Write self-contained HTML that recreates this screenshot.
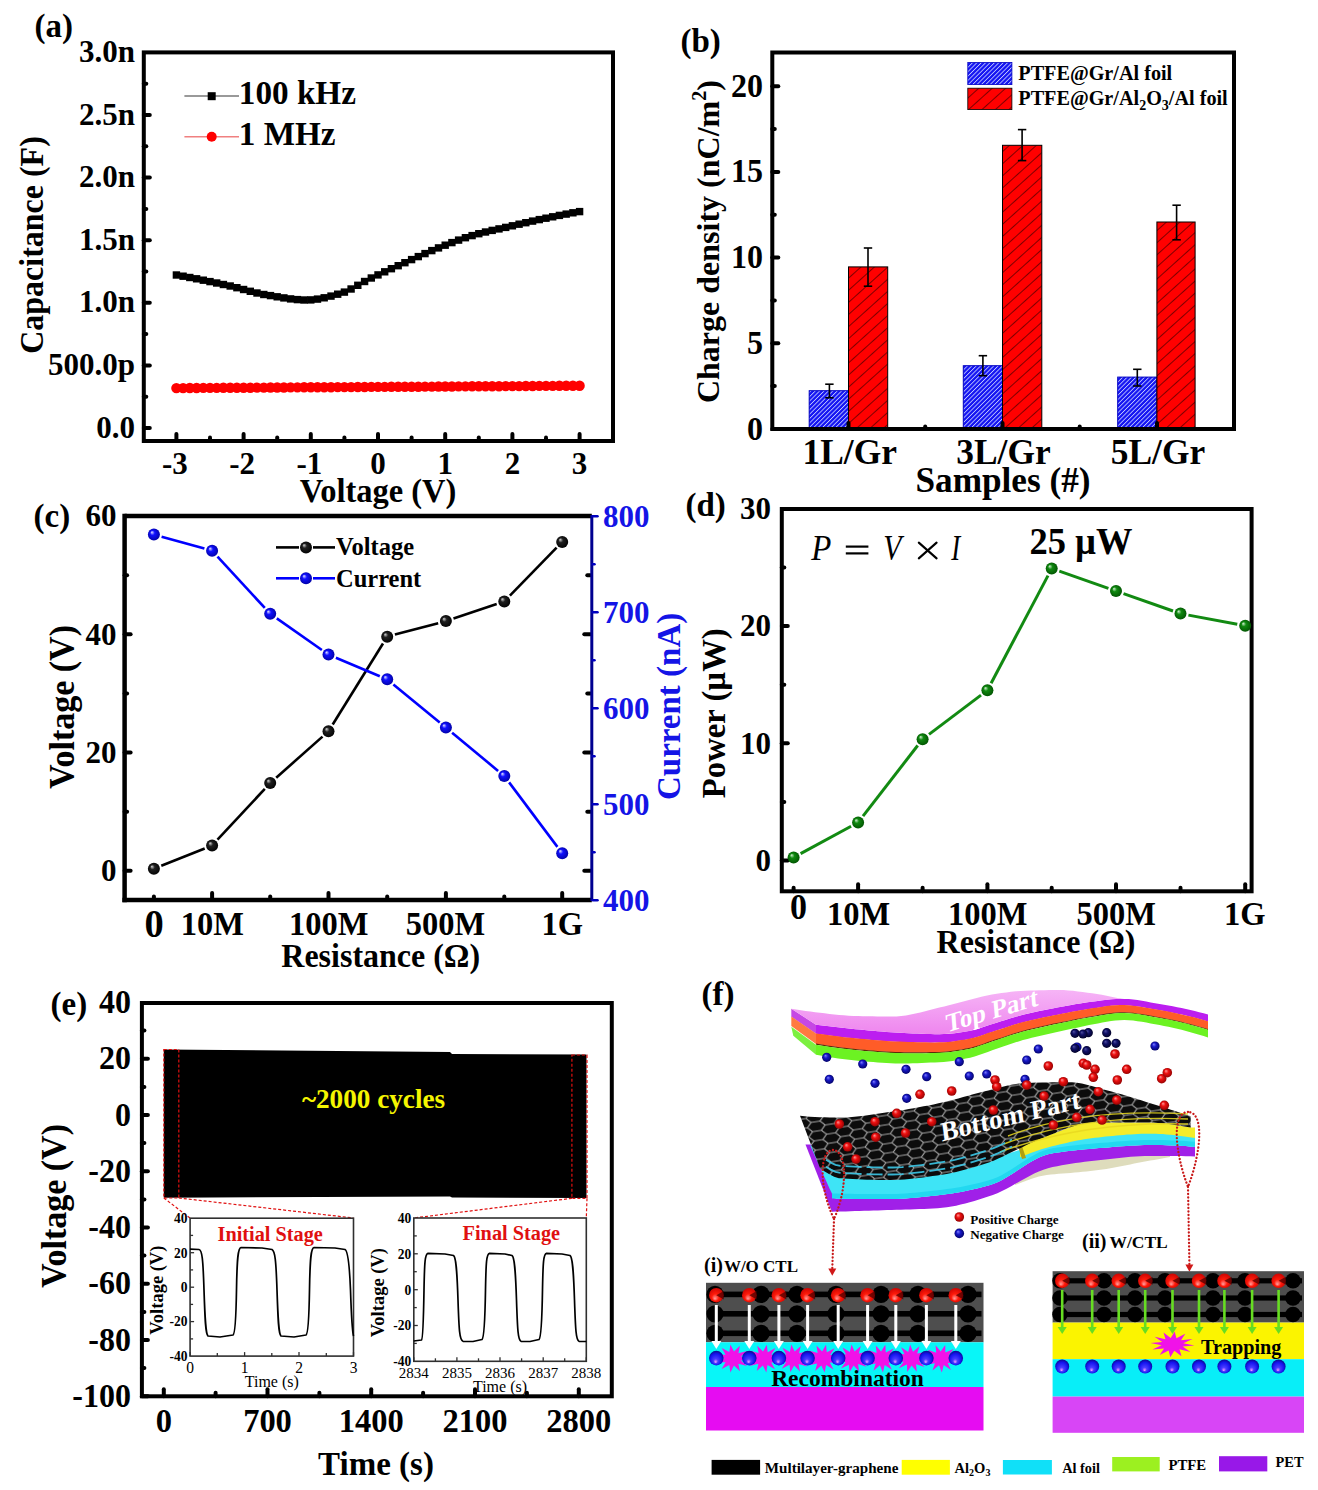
<!DOCTYPE html>
<html><head><meta charset="utf-8"><style>
html,body{margin:0;padding:0;background:#fff;width:1318px;height:1490px;overflow:hidden}
svg{display:block}
text{font-family:"Liberation Serif",serif}
</style></head><body>
<svg width="1318" height="1490" viewBox="0 0 1318 1490">
<rect width="1318" height="1490" fill="#fff"/>
<defs>
<radialGradient id="gk" cx="0.5" cy="0.5" r="0.55" fx="0.32" fy="0.3"><stop offset="0" stop-color="#d8d8d8"/><stop offset="0.35" stop-color="#202020"/><stop offset="1" stop-color="#000000"/></radialGradient>
<radialGradient id="gb" cx="0.5" cy="0.5" r="0.55" fx="0.32" fy="0.3"><stop offset="0" stop-color="#e8e8ff"/><stop offset="0.35" stop-color="#1010ff"/><stop offset="1" stop-color="#0000a0"/></radialGradient>
<radialGradient id="gg" cx="0.5" cy="0.5" r="0.55" fx="0.32" fy="0.3"><stop offset="0" stop-color="#d8f0d8"/><stop offset="0.35" stop-color="#108a10"/><stop offset="1" stop-color="#005000"/></radialGradient>
<radialGradient id="gr" cx="0.5" cy="0.5" r="0.55" fx="0.32" fy="0.3"><stop offset="0" stop-color="#ffd0d0"/><stop offset="0.35" stop-color="#ff1010"/><stop offset="1" stop-color="#900000"/></radialGradient>
<radialGradient id="gn" cx="0.5" cy="0.5" r="0.55" fx="0.32" fy="0.3"><stop offset="0" stop-color="#d0d0ff"/><stop offset="0.35" stop-color="#2020d0"/><stop offset="1" stop-color="#000060"/></radialGradient>
<pattern id="hb" patternUnits="userSpaceOnUse" width="3.1" height="3.1" patternTransform="rotate(45)"><rect width="3.1" height="3.1" fill="#1414f2"/><rect x="0" y="0" width="0.85" height="3.1" fill="#c0c8ff"/></pattern>
<pattern id="hr" patternUnits="userSpaceOnUse" width="9" height="9" patternTransform="rotate(48)"><rect width="9" height="9" fill="#ff0000"/><rect x="0" y="0" width="0.9" height="9" fill="#700000"/></pattern>
</defs>
<text x="0" y="0" font-size="33" text-anchor="start" fill="#000" font-weight="bold" font-style="normal" transform="translate(34.5,36.5) scale(1,1.04)">(a)</text>
<line x1="143.8" y1="428.0" x2="149.8" y2="428.0" stroke="#000" stroke-width="4" stroke-linecap="round"/>
<line x1="143.8" y1="396.7" x2="146.3" y2="396.7" stroke="#000" stroke-width="4" stroke-linecap="round"/>
<line x1="143.8" y1="365.4" x2="149.8" y2="365.4" stroke="#000" stroke-width="4" stroke-linecap="round"/>
<line x1="143.8" y1="334.1" x2="146.3" y2="334.1" stroke="#000" stroke-width="4" stroke-linecap="round"/>
<line x1="143.8" y1="302.8" x2="149.8" y2="302.8" stroke="#000" stroke-width="4" stroke-linecap="round"/>
<line x1="143.8" y1="271.5" x2="146.3" y2="271.5" stroke="#000" stroke-width="4" stroke-linecap="round"/>
<line x1="143.8" y1="240.2" x2="149.8" y2="240.2" stroke="#000" stroke-width="4" stroke-linecap="round"/>
<line x1="143.8" y1="208.9" x2="146.3" y2="208.9" stroke="#000" stroke-width="4" stroke-linecap="round"/>
<line x1="143.8" y1="177.6" x2="149.8" y2="177.6" stroke="#000" stroke-width="4" stroke-linecap="round"/>
<line x1="143.8" y1="146.3" x2="146.3" y2="146.3" stroke="#000" stroke-width="4" stroke-linecap="round"/>
<line x1="143.8" y1="115.0" x2="149.8" y2="115.0" stroke="#000" stroke-width="4" stroke-linecap="round"/>
<line x1="143.8" y1="83.7" x2="146.3" y2="83.7" stroke="#000" stroke-width="4" stroke-linecap="round"/>
<line x1="176.4" y1="441.0" x2="176.4" y2="434.0" stroke="#000" stroke-width="4" stroke-linecap="round"/>
<line x1="210.0" y1="441.0" x2="210.0" y2="437.5" stroke="#000" stroke-width="4" stroke-linecap="round"/>
<line x1="243.6" y1="441.0" x2="243.6" y2="434.0" stroke="#000" stroke-width="4" stroke-linecap="round"/>
<line x1="277.2" y1="441.0" x2="277.2" y2="437.5" stroke="#000" stroke-width="4" stroke-linecap="round"/>
<line x1="310.8" y1="441.0" x2="310.8" y2="434.0" stroke="#000" stroke-width="4" stroke-linecap="round"/>
<line x1="344.4" y1="441.0" x2="344.4" y2="437.5" stroke="#000" stroke-width="4" stroke-linecap="round"/>
<line x1="378.0" y1="441.0" x2="378.0" y2="434.0" stroke="#000" stroke-width="4" stroke-linecap="round"/>
<line x1="411.6" y1="441.0" x2="411.6" y2="437.5" stroke="#000" stroke-width="4" stroke-linecap="round"/>
<line x1="445.2" y1="441.0" x2="445.2" y2="434.0" stroke="#000" stroke-width="4" stroke-linecap="round"/>
<line x1="478.8" y1="441.0" x2="478.8" y2="437.5" stroke="#000" stroke-width="4" stroke-linecap="round"/>
<line x1="512.4" y1="441.0" x2="512.4" y2="434.0" stroke="#000" stroke-width="4" stroke-linecap="round"/>
<line x1="546.0" y1="441.0" x2="546.0" y2="437.5" stroke="#000" stroke-width="4" stroke-linecap="round"/>
<line x1="579.6" y1="441.0" x2="579.6" y2="434.0" stroke="#000" stroke-width="4" stroke-linecap="round"/>
<rect x="143.8" y="52.4" width="469.2" height="388.6" fill="none" stroke="#000" stroke-width="4" stroke-linejoin="miter"/>
<text x="0" y="0" font-size="31" text-anchor="end" fill="#000" font-weight="bold" font-style="normal" transform="translate(135.0,61.9) scale(1,1.04)">3.0n</text>
<text x="0" y="0" font-size="31" text-anchor="end" fill="#000" font-weight="bold" font-style="normal" transform="translate(135.0,124.5) scale(1,1.04)">2.5n</text>
<text x="0" y="0" font-size="31" text-anchor="end" fill="#000" font-weight="bold" font-style="normal" transform="translate(135.0,187.1) scale(1,1.04)">2.0n</text>
<text x="0" y="0" font-size="31" text-anchor="end" fill="#000" font-weight="bold" font-style="normal" transform="translate(135.0,249.7) scale(1,1.04)">1.5n</text>
<text x="0" y="0" font-size="31" text-anchor="end" fill="#000" font-weight="bold" font-style="normal" transform="translate(135.0,312.3) scale(1,1.04)">1.0n</text>
<text x="0" y="0" font-size="31" text-anchor="end" fill="#000" font-weight="bold" font-style="normal" transform="translate(135.0,374.9) scale(1,1.04)">500.0p</text>
<text x="0" y="0" font-size="31" text-anchor="end" fill="#000" font-weight="bold" font-style="normal" transform="translate(135.0,437.5) scale(1,1.04)">0.0</text>
<text x="0" y="0" font-size="31" text-anchor="middle" fill="#000" font-weight="bold" font-style="normal" transform="translate(174.9,474.0) scale(1,1.04)">-3</text>
<text x="0" y="0" font-size="31" text-anchor="middle" fill="#000" font-weight="bold" font-style="normal" transform="translate(242.1,474.0) scale(1,1.04)">-2</text>
<text x="0" y="0" font-size="31" text-anchor="middle" fill="#000" font-weight="bold" font-style="normal" transform="translate(309.3,474.0) scale(1,1.04)">-1</text>
<text x="0" y="0" font-size="31" text-anchor="middle" fill="#000" font-weight="bold" font-style="normal" transform="translate(378.0,474.0) scale(1,1.04)">0</text>
<text x="0" y="0" font-size="31" text-anchor="middle" fill="#000" font-weight="bold" font-style="normal" transform="translate(445.2,474.0) scale(1,1.04)">1</text>
<text x="0" y="0" font-size="31" text-anchor="middle" fill="#000" font-weight="bold" font-style="normal" transform="translate(512.4,474.0) scale(1,1.04)">2</text>
<text x="0" y="0" font-size="31" text-anchor="middle" fill="#000" font-weight="bold" font-style="normal" transform="translate(579.6,474.0) scale(1,1.04)">3</text>
<text x="0" y="0" font-size="32.5" text-anchor="middle" fill="#000" font-weight="bold" font-style="normal" transform="translate(378.0,501.5) scale(1,1.04)">Voltage (V)</text>
<text x="0" y="0" font-size="32" text-anchor="middle" fill="#000" font-weight="bold" font-style="normal" transform="translate(43.0,245.0) rotate(-90) scale(1,1.04)">Capacitance (F)</text>
<rect x="172.7" y="271.3" width="7.4" height="7.4" fill="#000" stroke="none" stroke-width="0"/>
<rect x="179.4" y="272.5" width="7.4" height="7.4" fill="#000" stroke="none" stroke-width="0"/>
<rect x="186.1" y="273.8" width="7.4" height="7.4" fill="#000" stroke="none" stroke-width="0"/>
<rect x="192.9" y="275.1" width="7.4" height="7.4" fill="#000" stroke="none" stroke-width="0"/>
<rect x="199.6" y="276.5" width="7.4" height="7.4" fill="#000" stroke="none" stroke-width="0"/>
<rect x="206.3" y="277.9" width="7.4" height="7.4" fill="#000" stroke="none" stroke-width="0"/>
<rect x="213.0" y="279.3" width="7.4" height="7.4" fill="#000" stroke="none" stroke-width="0"/>
<rect x="219.7" y="280.8" width="7.4" height="7.4" fill="#000" stroke="none" stroke-width="0"/>
<rect x="226.5" y="282.3" width="7.4" height="7.4" fill="#000" stroke="none" stroke-width="0"/>
<rect x="233.2" y="284.0" width="7.4" height="7.4" fill="#000" stroke="none" stroke-width="0"/>
<rect x="239.9" y="285.8" width="7.4" height="7.4" fill="#000" stroke="none" stroke-width="0"/>
<rect x="246.6" y="287.6" width="7.4" height="7.4" fill="#000" stroke="none" stroke-width="0"/>
<rect x="253.3" y="289.3" width="7.4" height="7.4" fill="#000" stroke="none" stroke-width="0"/>
<rect x="260.1" y="290.8" width="7.4" height="7.4" fill="#000" stroke="none" stroke-width="0"/>
<rect x="266.8" y="291.9" width="7.4" height="7.4" fill="#000" stroke="none" stroke-width="0"/>
<rect x="273.5" y="293.1" width="7.4" height="7.4" fill="#000" stroke="none" stroke-width="0"/>
<rect x="280.2" y="294.2" width="7.4" height="7.4" fill="#000" stroke="none" stroke-width="0"/>
<rect x="286.9" y="295.2" width="7.4" height="7.4" fill="#000" stroke="none" stroke-width="0"/>
<rect x="293.7" y="295.9" width="7.4" height="7.4" fill="#000" stroke="none" stroke-width="0"/>
<rect x="300.4" y="296.3" width="7.4" height="7.4" fill="#000" stroke="none" stroke-width="0"/>
<rect x="307.1" y="296.2" width="7.4" height="7.4" fill="#000" stroke="none" stroke-width="0"/>
<rect x="313.8" y="295.4" width="7.4" height="7.4" fill="#000" stroke="none" stroke-width="0"/>
<rect x="320.5" y="294.1" width="7.4" height="7.4" fill="#000" stroke="none" stroke-width="0"/>
<rect x="327.3" y="292.4" width="7.4" height="7.4" fill="#000" stroke="none" stroke-width="0"/>
<rect x="334.0" y="290.5" width="7.4" height="7.4" fill="#000" stroke="none" stroke-width="0"/>
<rect x="340.7" y="288.4" width="7.4" height="7.4" fill="#000" stroke="none" stroke-width="0"/>
<rect x="347.4" y="285.3" width="7.4" height="7.4" fill="#000" stroke="none" stroke-width="0"/>
<rect x="354.1" y="281.6" width="7.4" height="7.4" fill="#000" stroke="none" stroke-width="0"/>
<rect x="360.9" y="277.8" width="7.4" height="7.4" fill="#000" stroke="none" stroke-width="0"/>
<rect x="367.6" y="274.3" width="7.4" height="7.4" fill="#000" stroke="none" stroke-width="0"/>
<rect x="374.3" y="271.2" width="7.4" height="7.4" fill="#000" stroke="none" stroke-width="0"/>
<rect x="381.0" y="268.1" width="7.4" height="7.4" fill="#000" stroke="none" stroke-width="0"/>
<rect x="387.7" y="265.0" width="7.4" height="7.4" fill="#000" stroke="none" stroke-width="0"/>
<rect x="394.5" y="262.0" width="7.4" height="7.4" fill="#000" stroke="none" stroke-width="0"/>
<rect x="401.2" y="259.0" width="7.4" height="7.4" fill="#000" stroke="none" stroke-width="0"/>
<rect x="407.9" y="255.9" width="7.4" height="7.4" fill="#000" stroke="none" stroke-width="0"/>
<rect x="414.6" y="252.9" width="7.4" height="7.4" fill="#000" stroke="none" stroke-width="0"/>
<rect x="421.3" y="249.9" width="7.4" height="7.4" fill="#000" stroke="none" stroke-width="0"/>
<rect x="428.1" y="246.9" width="7.4" height="7.4" fill="#000" stroke="none" stroke-width="0"/>
<rect x="434.8" y="244.2" width="7.4" height="7.4" fill="#000" stroke="none" stroke-width="0"/>
<rect x="441.5" y="241.5" width="7.4" height="7.4" fill="#000" stroke="none" stroke-width="0"/>
<rect x="448.2" y="238.9" width="7.4" height="7.4" fill="#000" stroke="none" stroke-width="0"/>
<rect x="454.9" y="236.4" width="7.4" height="7.4" fill="#000" stroke="none" stroke-width="0"/>
<rect x="461.7" y="234.0" width="7.4" height="7.4" fill="#000" stroke="none" stroke-width="0"/>
<rect x="468.4" y="231.9" width="7.4" height="7.4" fill="#000" stroke="none" stroke-width="0"/>
<rect x="475.1" y="230.0" width="7.4" height="7.4" fill="#000" stroke="none" stroke-width="0"/>
<rect x="481.8" y="228.3" width="7.4" height="7.4" fill="#000" stroke="none" stroke-width="0"/>
<rect x="488.5" y="226.7" width="7.4" height="7.4" fill="#000" stroke="none" stroke-width="0"/>
<rect x="495.3" y="225.2" width="7.4" height="7.4" fill="#000" stroke="none" stroke-width="0"/>
<rect x="502.0" y="223.7" width="7.4" height="7.4" fill="#000" stroke="none" stroke-width="0"/>
<rect x="508.7" y="222.1" width="7.4" height="7.4" fill="#000" stroke="none" stroke-width="0"/>
<rect x="515.4" y="220.5" width="7.4" height="7.4" fill="#000" stroke="none" stroke-width="0"/>
<rect x="522.1" y="219.0" width="7.4" height="7.4" fill="#000" stroke="none" stroke-width="0"/>
<rect x="528.9" y="217.4" width="7.4" height="7.4" fill="#000" stroke="none" stroke-width="0"/>
<rect x="535.6" y="215.9" width="7.4" height="7.4" fill="#000" stroke="none" stroke-width="0"/>
<rect x="542.3" y="214.5" width="7.4" height="7.4" fill="#000" stroke="none" stroke-width="0"/>
<rect x="549.0" y="213.1" width="7.4" height="7.4" fill="#000" stroke="none" stroke-width="0"/>
<rect x="555.7" y="211.7" width="7.4" height="7.4" fill="#000" stroke="none" stroke-width="0"/>
<rect x="562.5" y="210.4" width="7.4" height="7.4" fill="#000" stroke="none" stroke-width="0"/>
<rect x="569.2" y="209.1" width="7.4" height="7.4" fill="#000" stroke="none" stroke-width="0"/>
<rect x="575.9" y="207.9" width="7.4" height="7.4" fill="#000" stroke="none" stroke-width="0"/>
<circle cx="176.4" cy="388.1" r="5.2" fill="#ff0000"/>
<circle cx="183.1" cy="388.1" r="5.2" fill="#ff0000"/>
<circle cx="189.8" cy="388.0" r="5.2" fill="#ff0000"/>
<circle cx="196.6" cy="388.0" r="5.2" fill="#ff0000"/>
<circle cx="203.3" cy="387.9" r="5.2" fill="#ff0000"/>
<circle cx="210.0" cy="387.9" r="5.2" fill="#ff0000"/>
<circle cx="216.7" cy="387.9" r="5.2" fill="#ff0000"/>
<circle cx="223.4" cy="387.8" r="5.2" fill="#ff0000"/>
<circle cx="230.2" cy="387.8" r="5.2" fill="#ff0000"/>
<circle cx="236.9" cy="387.7" r="5.2" fill="#ff0000"/>
<circle cx="243.6" cy="387.7" r="5.2" fill="#ff0000"/>
<circle cx="250.3" cy="387.7" r="5.2" fill="#ff0000"/>
<circle cx="257.0" cy="387.6" r="5.2" fill="#ff0000"/>
<circle cx="263.8" cy="387.6" r="5.2" fill="#ff0000"/>
<circle cx="270.5" cy="387.5" r="5.2" fill="#ff0000"/>
<circle cx="277.2" cy="387.5" r="5.2" fill="#ff0000"/>
<circle cx="283.9" cy="387.5" r="5.2" fill="#ff0000"/>
<circle cx="290.6" cy="387.4" r="5.2" fill="#ff0000"/>
<circle cx="297.4" cy="387.4" r="5.2" fill="#ff0000"/>
<circle cx="304.1" cy="387.3" r="5.2" fill="#ff0000"/>
<circle cx="310.8" cy="387.3" r="5.2" fill="#ff0000"/>
<circle cx="317.5" cy="387.3" r="5.2" fill="#ff0000"/>
<circle cx="324.2" cy="387.2" r="5.2" fill="#ff0000"/>
<circle cx="331.0" cy="387.2" r="5.2" fill="#ff0000"/>
<circle cx="337.7" cy="387.1" r="5.2" fill="#ff0000"/>
<circle cx="344.4" cy="387.1" r="5.2" fill="#ff0000"/>
<circle cx="351.1" cy="387.1" r="5.2" fill="#ff0000"/>
<circle cx="357.8" cy="387.0" r="5.2" fill="#ff0000"/>
<circle cx="364.6" cy="387.0" r="5.2" fill="#ff0000"/>
<circle cx="371.3" cy="386.9" r="5.2" fill="#ff0000"/>
<circle cx="378.0" cy="386.9" r="5.2" fill="#ff0000"/>
<circle cx="384.7" cy="386.9" r="5.2" fill="#ff0000"/>
<circle cx="391.4" cy="386.8" r="5.2" fill="#ff0000"/>
<circle cx="398.2" cy="386.8" r="5.2" fill="#ff0000"/>
<circle cx="404.9" cy="386.7" r="5.2" fill="#ff0000"/>
<circle cx="411.6" cy="386.7" r="5.2" fill="#ff0000"/>
<circle cx="418.3" cy="386.7" r="5.2" fill="#ff0000"/>
<circle cx="425.0" cy="386.6" r="5.2" fill="#ff0000"/>
<circle cx="431.8" cy="386.6" r="5.2" fill="#ff0000"/>
<circle cx="438.5" cy="386.5" r="5.2" fill="#ff0000"/>
<circle cx="445.2" cy="386.5" r="5.2" fill="#ff0000"/>
<circle cx="451.9" cy="386.5" r="5.2" fill="#ff0000"/>
<circle cx="458.6" cy="386.4" r="5.2" fill="#ff0000"/>
<circle cx="465.4" cy="386.4" r="5.2" fill="#ff0000"/>
<circle cx="472.1" cy="386.3" r="5.2" fill="#ff0000"/>
<circle cx="478.8" cy="386.3" r="5.2" fill="#ff0000"/>
<circle cx="485.5" cy="386.3" r="5.2" fill="#ff0000"/>
<circle cx="492.2" cy="386.2" r="5.2" fill="#ff0000"/>
<circle cx="499.0" cy="386.2" r="5.2" fill="#ff0000"/>
<circle cx="505.7" cy="386.1" r="5.2" fill="#ff0000"/>
<circle cx="512.4" cy="386.1" r="5.2" fill="#ff0000"/>
<circle cx="519.1" cy="386.1" r="5.2" fill="#ff0000"/>
<circle cx="525.8" cy="386.0" r="5.2" fill="#ff0000"/>
<circle cx="532.6" cy="386.0" r="5.2" fill="#ff0000"/>
<circle cx="539.3" cy="385.9" r="5.2" fill="#ff0000"/>
<circle cx="546.0" cy="385.9" r="5.2" fill="#ff0000"/>
<circle cx="552.7" cy="385.9" r="5.2" fill="#ff0000"/>
<circle cx="559.4" cy="385.8" r="5.2" fill="#ff0000"/>
<circle cx="566.2" cy="385.8" r="5.2" fill="#ff0000"/>
<circle cx="572.9" cy="385.7" r="5.2" fill="#ff0000"/>
<circle cx="579.6" cy="385.7" r="5.2" fill="#ff0000"/>
<line x1="184.4" y1="96.1" x2="239.0" y2="96.1" stroke="#777" stroke-width="1.5"/>
<rect x="207.7" y="92.2" width="8.0" height="8.0" fill="#000" stroke="none" stroke-width="0"/>
<text x="0" y="0" font-size="33.2" text-anchor="start" fill="#000" font-weight="bold" font-style="normal" transform="translate(238.8,103.7) scale(1,1.04)">100 kHz</text>
<line x1="184.4" y1="136.8" x2="239.0" y2="136.8" stroke="#f08080" stroke-width="1.5"/>
<circle cx="211.7" cy="136.8" r="5" fill="#ff0000"/>
<text x="0" y="0" font-size="33.2" text-anchor="start" fill="#000" font-weight="bold" font-style="normal" transform="translate(238.8,144.7) scale(1,1.04)">1 MHz</text>
<text x="0" y="0" font-size="33" text-anchor="start" fill="#000" font-weight="bold" font-style="normal" transform="translate(680.5,52.0) scale(1,1.04)">(b)</text>
<line x1="772.3" y1="429.0" x2="778.3" y2="429.0" stroke="#000" stroke-width="4" stroke-linecap="round"/>
<line x1="772.3" y1="386.1" x2="774.8" y2="386.1" stroke="#000" stroke-width="4" stroke-linecap="round"/>
<line x1="772.3" y1="343.3" x2="778.3" y2="343.3" stroke="#000" stroke-width="4" stroke-linecap="round"/>
<line x1="772.3" y1="300.4" x2="774.8" y2="300.4" stroke="#000" stroke-width="4" stroke-linecap="round"/>
<line x1="772.3" y1="257.6" x2="778.3" y2="257.6" stroke="#000" stroke-width="4" stroke-linecap="round"/>
<line x1="772.3" y1="214.8" x2="774.8" y2="214.8" stroke="#000" stroke-width="4" stroke-linecap="round"/>
<line x1="772.3" y1="171.9" x2="778.3" y2="171.9" stroke="#000" stroke-width="4" stroke-linecap="round"/>
<line x1="772.3" y1="129.1" x2="774.8" y2="129.1" stroke="#000" stroke-width="4" stroke-linecap="round"/>
<line x1="772.3" y1="86.2" x2="778.3" y2="86.2" stroke="#000" stroke-width="4" stroke-linecap="round"/>
<text x="0" y="0" font-size="32" text-anchor="end" fill="#000" font-weight="bold" font-style="normal" transform="translate(763.0,96.7) scale(1,1.04)">20</text>
<text x="0" y="0" font-size="32" text-anchor="end" fill="#000" font-weight="bold" font-style="normal" transform="translate(763.0,182.4) scale(1,1.04)">15</text>
<text x="0" y="0" font-size="32" text-anchor="end" fill="#000" font-weight="bold" font-style="normal" transform="translate(763.0,268.1) scale(1,1.04)">10</text>
<text x="0" y="0" font-size="32" text-anchor="end" fill="#000" font-weight="bold" font-style="normal" transform="translate(763.0,353.8) scale(1,1.04)">5</text>
<text x="0" y="0" font-size="32" text-anchor="end" fill="#000" font-weight="bold" font-style="normal" transform="translate(763.0,439.5) scale(1,1.04)">0</text>
<rect x="809.2" y="390.7" width="39.3" height="38.3" fill="url(#hb)" stroke="#0000c0" stroke-width="1"/>
<rect x="848.5" y="266.9" width="39.2" height="162.1" fill="url(#hr)" stroke="#000" stroke-width="1"/>
<rect x="963.3" y="365.7" width="39.2" height="63.3" fill="url(#hb)" stroke="#0000c0" stroke-width="1"/>
<rect x="1002.5" y="145.3" width="39.3" height="283.7" fill="url(#hr)" stroke="#000" stroke-width="1"/>
<rect x="1117.7" y="377.1" width="39.2" height="51.9" fill="url(#hb)" stroke="#0000c0" stroke-width="1"/>
<rect x="1156.9" y="222.0" width="38.2" height="207.0" fill="url(#hr)" stroke="#000" stroke-width="1"/>
<line x1="829.4" y1="384.2" x2="829.4" y2="397.8" stroke="#000" stroke-width="1.6"/>
<line x1="825.2" y1="384.2" x2="833.6" y2="384.2" stroke="#000" stroke-width="1.6"/>
<line x1="825.2" y1="397.8" x2="833.6" y2="397.8" stroke="#000" stroke-width="1.6"/>
<line x1="868.0" y1="248.0" x2="868.0" y2="286.2" stroke="#000" stroke-width="1.6"/>
<line x1="863.8" y1="248.0" x2="872.2" y2="248.0" stroke="#000" stroke-width="1.6"/>
<line x1="863.8" y1="286.2" x2="872.2" y2="286.2" stroke="#000" stroke-width="1.6"/>
<line x1="982.9" y1="355.7" x2="982.9" y2="375.7" stroke="#000" stroke-width="1.6"/>
<line x1="978.7" y1="355.7" x2="987.1" y2="355.7" stroke="#000" stroke-width="1.6"/>
<line x1="978.7" y1="375.7" x2="987.1" y2="375.7" stroke="#000" stroke-width="1.6"/>
<line x1="1022.1" y1="129.6" x2="1022.1" y2="160.6" stroke="#000" stroke-width="1.6"/>
<line x1="1017.9" y1="129.6" x2="1026.3" y2="129.6" stroke="#000" stroke-width="1.6"/>
<line x1="1017.9" y1="160.6" x2="1026.3" y2="160.6" stroke="#000" stroke-width="1.6"/>
<line x1="1137.3" y1="369.3" x2="1137.3" y2="386.0" stroke="#000" stroke-width="1.6"/>
<line x1="1133.1" y1="369.3" x2="1141.5" y2="369.3" stroke="#000" stroke-width="1.6"/>
<line x1="1133.1" y1="386.0" x2="1141.5" y2="386.0" stroke="#000" stroke-width="1.6"/>
<line x1="1176.6" y1="205.2" x2="1176.6" y2="239.8" stroke="#000" stroke-width="1.6"/>
<line x1="1172.4" y1="205.2" x2="1180.8" y2="205.2" stroke="#000" stroke-width="1.6"/>
<line x1="1172.4" y1="239.8" x2="1180.8" y2="239.8" stroke="#000" stroke-width="1.6"/>
<line x1="848.5" y1="429.0" x2="848.5" y2="423.0" stroke="#000" stroke-width="4" stroke-linecap="round"/>
<line x1="1002.5" y1="429.0" x2="1002.5" y2="423.0" stroke="#000" stroke-width="4" stroke-linecap="round"/>
<line x1="1157.0" y1="429.0" x2="1157.0" y2="423.0" stroke="#000" stroke-width="4" stroke-linecap="round"/>
<line x1="925.2" y1="429.0" x2="925.2" y2="426.5" stroke="#000" stroke-width="4" stroke-linecap="round"/>
<line x1="1079.7" y1="429.0" x2="1079.7" y2="426.5" stroke="#000" stroke-width="4" stroke-linecap="round"/>
<rect x="772.3" y="52.5" width="461.70000000000005" height="376.5" fill="none" stroke="#000" stroke-width="4" stroke-linejoin="miter"/>
<text x="0" y="0" font-size="35.4" text-anchor="middle" fill="#000" font-weight="bold" font-style="normal" transform="translate(849.7,463.5) scale(1,1.04)">1L/Gr</text>
<text x="0" y="0" font-size="35.4" text-anchor="middle" fill="#000" font-weight="bold" font-style="normal" transform="translate(1003.5,463.5) scale(1,1.04)">3L/Gr</text>
<text x="0" y="0" font-size="35.4" text-anchor="middle" fill="#000" font-weight="bold" font-style="normal" transform="translate(1158.0,463.5) scale(1,1.04)">5L/Gr</text>
<text x="0" y="0" font-size="35.2" text-anchor="middle" fill="#000" font-weight="bold" font-style="normal" transform="translate(1003.0,491.9) scale(1,1.04)">Samples (#)</text>
<text x="719" y="241.6" font-size="32" text-anchor="middle" font-weight="bold" transform="rotate(-90 719 241.6)">Charge density (nC/m<tspan font-size="20" dy="-13">2</tspan><tspan dy="13">)</tspan></text>
<rect x="967.8" y="62.5" width="44.1" height="22.1" fill="url(#hb)" stroke="#0000c0" stroke-width="0.8"/>
<rect x="967.8" y="88.2" width="44.1" height="21.4" fill="url(#hr)" stroke="#000" stroke-width="0.8"/>
<text x="0" y="0" font-size="20.2" text-anchor="start" fill="#000" font-weight="bold" font-style="normal" transform="translate(1018.3,79.6) scale(1,1.04)">PTFE@Gr/Al foil</text>
<text x="1018.3" y="105.3" font-size="20.2" font-weight="bold">PTFE@Gr/Al<tspan font-size="14" dy="5">2</tspan><tspan dy="-5">O</tspan><tspan font-size="14" dy="5">3</tspan><tspan dy="-5">/Al foil</tspan></text>
<text x="0" y="0" font-size="33" text-anchor="start" fill="#000" font-weight="bold" font-style="normal" transform="translate(33.5,526.5) scale(1,1.04)">(c)</text>
<line x1="124.6" y1="870.8" x2="130.6" y2="870.8" stroke="#000" stroke-width="4" stroke-linecap="round"/>
<line x1="590.3" y1="870.8" x2="584.3" y2="870.8" stroke="#000" stroke-width="4" stroke-linecap="round"/>
<line x1="124.6" y1="811.7" x2="127.1" y2="811.7" stroke="#000" stroke-width="4" stroke-linecap="round"/>
<line x1="590.3" y1="811.7" x2="587.3" y2="811.7" stroke="#000" stroke-width="4" stroke-linecap="round"/>
<line x1="124.6" y1="752.5" x2="130.6" y2="752.5" stroke="#000" stroke-width="4" stroke-linecap="round"/>
<line x1="590.3" y1="752.5" x2="584.3" y2="752.5" stroke="#000" stroke-width="4" stroke-linecap="round"/>
<line x1="124.6" y1="693.4" x2="127.1" y2="693.4" stroke="#000" stroke-width="4" stroke-linecap="round"/>
<line x1="590.3" y1="693.4" x2="587.3" y2="693.4" stroke="#000" stroke-width="4" stroke-linecap="round"/>
<line x1="124.6" y1="634.3" x2="130.6" y2="634.3" stroke="#000" stroke-width="4" stroke-linecap="round"/>
<line x1="590.3" y1="634.3" x2="584.3" y2="634.3" stroke="#000" stroke-width="4" stroke-linecap="round"/>
<line x1="124.6" y1="575.2" x2="127.1" y2="575.2" stroke="#000" stroke-width="4" stroke-linecap="round"/>
<line x1="590.3" y1="575.2" x2="587.3" y2="575.2" stroke="#000" stroke-width="4" stroke-linecap="round"/>
<line x1="153.9" y1="900.0" x2="153.9" y2="896.5" stroke="#000" stroke-width="4" stroke-linecap="round"/>
<line x1="212.1" y1="900.0" x2="212.1" y2="893.0" stroke="#000" stroke-width="4" stroke-linecap="round"/>
<line x1="270.2" y1="900.0" x2="270.2" y2="896.5" stroke="#000" stroke-width="4" stroke-linecap="round"/>
<line x1="328.5" y1="900.0" x2="328.5" y2="893.0" stroke="#000" stroke-width="4" stroke-linecap="round"/>
<line x1="387.2" y1="900.0" x2="387.2" y2="896.5" stroke="#000" stroke-width="4" stroke-linecap="round"/>
<line x1="445.9" y1="900.0" x2="445.9" y2="893.0" stroke="#000" stroke-width="4" stroke-linecap="round"/>
<line x1="504.3" y1="900.0" x2="504.3" y2="896.5" stroke="#000" stroke-width="4" stroke-linecap="round"/>
<line x1="562.2" y1="900.0" x2="562.2" y2="893.0" stroke="#000" stroke-width="4" stroke-linecap="round"/>
<line x1="124.6" y1="516.0" x2="591.8" y2="516.0" stroke="#000" stroke-width="4.5"/>
<line x1="124.6" y1="513.8" x2="124.6" y2="902.2" stroke="#000" stroke-width="4.5"/>
<line x1="122.4" y1="900.0" x2="591.8" y2="900.0" stroke="#000" stroke-width="4.5"/>
<line x1="591.8" y1="515.0" x2="591.8" y2="901.0" stroke="#000090" stroke-width="3"/>
<line x1="592.8" y1="900.3" x2="597.5" y2="900.3" stroke="#0000c0" stroke-width="2.5" stroke-linecap="round"/>
<line x1="592.8" y1="852.3" x2="594.5" y2="852.3" stroke="#0000c0" stroke-width="2.5" stroke-linecap="round"/>
<line x1="592.8" y1="804.3" x2="597.5" y2="804.3" stroke="#0000c0" stroke-width="2.5" stroke-linecap="round"/>
<line x1="592.8" y1="756.3" x2="594.5" y2="756.3" stroke="#0000c0" stroke-width="2.5" stroke-linecap="round"/>
<line x1="592.8" y1="708.3" x2="597.5" y2="708.3" stroke="#0000c0" stroke-width="2.5" stroke-linecap="round"/>
<line x1="592.8" y1="660.3" x2="594.5" y2="660.3" stroke="#0000c0" stroke-width="2.5" stroke-linecap="round"/>
<line x1="592.8" y1="612.3" x2="597.5" y2="612.3" stroke="#0000c0" stroke-width="2.5" stroke-linecap="round"/>
<line x1="592.8" y1="564.3" x2="594.5" y2="564.3" stroke="#0000c0" stroke-width="2.5" stroke-linecap="round"/>
<line x1="592.8" y1="516.3" x2="597.5" y2="516.3" stroke="#0000c0" stroke-width="2.5" stroke-linecap="round"/>
<text x="0" y="0" font-size="31" text-anchor="end" fill="#000" font-weight="bold" font-style="normal" transform="translate(116.5,526.3) scale(1,1.04)">60</text>
<text x="0" y="0" font-size="31" text-anchor="end" fill="#000" font-weight="bold" font-style="normal" transform="translate(116.5,644.6) scale(1,1.04)">40</text>
<text x="0" y="0" font-size="31" text-anchor="end" fill="#000" font-weight="bold" font-style="normal" transform="translate(116.5,762.8) scale(1,1.04)">20</text>
<text x="0" y="0" font-size="31" text-anchor="end" fill="#000" font-weight="bold" font-style="normal" transform="translate(116.5,881.1) scale(1,1.04)">0</text>
<text x="0" y="0" font-size="31" text-anchor="start" fill="#1414e6" font-weight="bold" font-style="normal" transform="translate(603.0,526.6) scale(1,1.04)">800</text>
<text x="0" y="0" font-size="31" text-anchor="start" fill="#1414e6" font-weight="bold" font-style="normal" transform="translate(603.0,622.6) scale(1,1.04)">700</text>
<text x="0" y="0" font-size="31" text-anchor="start" fill="#1414e6" font-weight="bold" font-style="normal" transform="translate(603.0,718.6) scale(1,1.04)">600</text>
<text x="0" y="0" font-size="31" text-anchor="start" fill="#1414e6" font-weight="bold" font-style="normal" transform="translate(603.0,814.6) scale(1,1.04)">500</text>
<text x="0" y="0" font-size="31" text-anchor="start" fill="#1414e6" font-weight="bold" font-style="normal" transform="translate(603.0,910.6) scale(1,1.04)">400</text>
<text x="0" y="0" font-size="38.5" text-anchor="middle" fill="#000" font-weight="bold" font-style="normal" transform="translate(154.2,937.2) scale(1,1.04)">0</text>
<text x="0" y="0" font-size="32.5" text-anchor="middle" fill="#000" font-weight="bold" font-style="normal" transform="translate(212.4,935.0) scale(1,1.04)">10M</text>
<text x="0" y="0" font-size="32.5" text-anchor="middle" fill="#000" font-weight="bold" font-style="normal" transform="translate(328.6,935.0) scale(1,1.04)">100M</text>
<text x="0" y="0" font-size="32.5" text-anchor="middle" fill="#000" font-weight="bold" font-style="normal" transform="translate(445.5,935.0) scale(1,1.04)">500M</text>
<text x="0" y="0" font-size="32.5" text-anchor="middle" fill="#000" font-weight="bold" font-style="normal" transform="translate(562.2,935.0) scale(1,1.04)">1G</text>
<text x="0" y="0" font-size="32" text-anchor="middle" fill="#000" font-weight="bold" font-style="normal" transform="translate(380.7,967.2) scale(1,1.04)">Resistance (Ω)</text>
<text x="0" y="0" font-size="34" text-anchor="middle" fill="#000" font-weight="bold" font-style="normal" transform="translate(73.5,707.0) rotate(-90) scale(1,1.04)">Voltage (V)</text>
<text x="0" y="0" font-size="33" text-anchor="middle" fill="#1414e6" font-weight="bold" font-style="normal" transform="translate(680.0,706.4) rotate(-90) scale(1,1.04)">Current (nA)</text>
<line x1="161.3" y1="865.8" x2="204.7" y2="848.5" stroke="#000" stroke-width="2.6" stroke-linecap="butt"/>
<line x1="217.5" y1="839.6" x2="264.8" y2="788.9" stroke="#000" stroke-width="2.6" stroke-linecap="butt"/>
<line x1="276.2" y1="777.7" x2="322.5" y2="736.6" stroke="#000" stroke-width="2.6" stroke-linecap="butt"/>
<line x1="332.7" y1="724.5" x2="383.0" y2="643.5" stroke="#000" stroke-width="2.6" stroke-linecap="butt"/>
<line x1="394.9" y1="634.6" x2="438.2" y2="623.2" stroke="#000" stroke-width="2.6" stroke-linecap="butt"/>
<line x1="453.5" y1="618.5" x2="496.7" y2="604.0" stroke="#000" stroke-width="2.6" stroke-linecap="butt"/>
<line x1="509.9" y1="595.7" x2="556.6" y2="547.6" stroke="#000" stroke-width="2.6" stroke-linecap="butt"/>
<line x1="161.6" y1="536.7" x2="204.4" y2="548.6" stroke="#0000ff" stroke-width="2.6" stroke-linecap="butt"/>
<line x1="217.5" y1="556.7" x2="264.8" y2="607.9" stroke="#0000ff" stroke-width="2.6" stroke-linecap="butt"/>
<line x1="276.8" y1="618.4" x2="321.9" y2="650.0" stroke="#0000ff" stroke-width="2.6" stroke-linecap="butt"/>
<line x1="335.9" y1="657.7" x2="379.8" y2="676.2" stroke="#0000ff" stroke-width="2.6" stroke-linecap="butt"/>
<line x1="393.4" y1="684.4" x2="439.7" y2="722.5" stroke="#0000ff" stroke-width="2.6" stroke-linecap="butt"/>
<line x1="452.1" y1="732.7" x2="498.1" y2="770.9" stroke="#0000ff" stroke-width="2.6" stroke-linecap="butt"/>
<line x1="509.1" y1="782.4" x2="557.4" y2="846.9" stroke="#0000ff" stroke-width="2.6" stroke-linecap="butt"/>
<circle cx="153.9" cy="868.8" r="6" fill="url(#gk)"/>
<circle cx="212.1" cy="845.5" r="6" fill="url(#gk)"/>
<circle cx="270.2" cy="783.0" r="6" fill="url(#gk)"/>
<circle cx="328.5" cy="731.3" r="6" fill="url(#gk)"/>
<circle cx="387.2" cy="636.7" r="6" fill="url(#gk)"/>
<circle cx="445.9" cy="621.1" r="6" fill="url(#gk)"/>
<circle cx="504.3" cy="601.4" r="6" fill="url(#gk)"/>
<circle cx="562.2" cy="541.9" r="6" fill="url(#gk)"/>
<circle cx="153.9" cy="534.5" r="6" fill="url(#gb)"/>
<circle cx="212.1" cy="550.8" r="6" fill="url(#gb)"/>
<circle cx="270.2" cy="613.8" r="6" fill="url(#gb)"/>
<circle cx="328.5" cy="654.6" r="6" fill="url(#gb)"/>
<circle cx="387.2" cy="679.3" r="6" fill="url(#gb)"/>
<circle cx="445.9" cy="727.6" r="6" fill="url(#gb)"/>
<circle cx="504.3" cy="776.0" r="6" fill="url(#gb)"/>
<circle cx="562.2" cy="853.3" r="6" fill="url(#gb)"/>
<line x1="276.0" y1="547.4" x2="299.0" y2="547.4" stroke="#000" stroke-width="2.6"/>
<line x1="313.0" y1="547.4" x2="335.0" y2="547.4" stroke="#000" stroke-width="2.6"/>
<circle cx="306.0" cy="547.4" r="6" fill="url(#gk)"/>
<line x1="276.0" y1="578.3" x2="299.0" y2="578.3" stroke="#0000ff" stroke-width="2.6"/>
<line x1="313.0" y1="578.3" x2="335.0" y2="578.3" stroke="#0000ff" stroke-width="2.6"/>
<circle cx="306.0" cy="578.3" r="6" fill="url(#gb)"/>
<text x="0" y="0" font-size="24.5" text-anchor="start" fill="#000" font-weight="bold" font-style="normal" transform="translate(336.0,554.7) scale(1,1.04)">Voltage</text>
<text x="0" y="0" font-size="24.5" text-anchor="start" fill="#000" font-weight="bold" font-style="normal" transform="translate(336.0,587.0) scale(1,1.04)">Current</text>
<text x="0" y="0" font-size="33" text-anchor="start" fill="#000" font-weight="bold" font-style="normal" transform="translate(685.5,516.0) scale(1,1.04)">(d)</text>
<line x1="781.8" y1="860.5" x2="787.8" y2="860.5" stroke="#000" stroke-width="4" stroke-linecap="round"/>
<line x1="781.8" y1="801.9" x2="784.3" y2="801.9" stroke="#000" stroke-width="4" stroke-linecap="round"/>
<line x1="781.8" y1="743.3" x2="787.8" y2="743.3" stroke="#000" stroke-width="4" stroke-linecap="round"/>
<line x1="781.8" y1="684.7" x2="784.3" y2="684.7" stroke="#000" stroke-width="4" stroke-linecap="round"/>
<line x1="781.8" y1="626.1" x2="787.8" y2="626.1" stroke="#000" stroke-width="4" stroke-linecap="round"/>
<line x1="781.8" y1="567.5" x2="784.3" y2="567.5" stroke="#000" stroke-width="4" stroke-linecap="round"/>
<line x1="793.6" y1="891.3" x2="793.6" y2="887.8" stroke="#000" stroke-width="4" stroke-linecap="round"/>
<line x1="858.1" y1="891.3" x2="858.1" y2="884.3" stroke="#000" stroke-width="4" stroke-linecap="round"/>
<line x1="922.6" y1="891.3" x2="922.6" y2="887.8" stroke="#000" stroke-width="4" stroke-linecap="round"/>
<line x1="987.4" y1="891.3" x2="987.4" y2="884.3" stroke="#000" stroke-width="4" stroke-linecap="round"/>
<line x1="1051.7" y1="891.3" x2="1051.7" y2="887.8" stroke="#000" stroke-width="4" stroke-linecap="round"/>
<line x1="1116.0" y1="891.3" x2="1116.0" y2="884.3" stroke="#000" stroke-width="4" stroke-linecap="round"/>
<line x1="1180.5" y1="891.3" x2="1180.5" y2="887.8" stroke="#000" stroke-width="4" stroke-linecap="round"/>
<line x1="1245.2" y1="891.3" x2="1245.2" y2="884.3" stroke="#000" stroke-width="4" stroke-linecap="round"/>
<rect x="781.8" y="509" width="469.79999999999995" height="382.29999999999995" fill="none" stroke="#000" stroke-width="4" stroke-linejoin="miter"/>
<text x="0" y="0" font-size="31" text-anchor="end" fill="#000" font-weight="bold" font-style="normal" transform="translate(771.0,519.2) scale(1,1.04)">30</text>
<text x="0" y="0" font-size="31" text-anchor="end" fill="#000" font-weight="bold" font-style="normal" transform="translate(771.0,636.4) scale(1,1.04)">20</text>
<text x="0" y="0" font-size="31" text-anchor="end" fill="#000" font-weight="bold" font-style="normal" transform="translate(771.0,753.6) scale(1,1.04)">10</text>
<text x="0" y="0" font-size="31" text-anchor="end" fill="#000" font-weight="bold" font-style="normal" transform="translate(771.0,870.8) scale(1,1.04)">0</text>
<text x="0" y="0" font-size="34" text-anchor="middle" fill="#000" font-weight="bold" font-style="normal" transform="translate(798.4,919.2) scale(1,1.04)">0</text>
<text x="0" y="0" font-size="32.5" text-anchor="middle" fill="#000" font-weight="bold" font-style="normal" transform="translate(858.5,924.5) scale(1,1.04)">10M</text>
<text x="0" y="0" font-size="32.5" text-anchor="middle" fill="#000" font-weight="bold" font-style="normal" transform="translate(987.6,924.5) scale(1,1.04)">100M</text>
<text x="0" y="0" font-size="32.5" text-anchor="middle" fill="#000" font-weight="bold" font-style="normal" transform="translate(1116.3,924.5) scale(1,1.04)">500M</text>
<text x="0" y="0" font-size="32.5" text-anchor="middle" fill="#000" font-weight="bold" font-style="normal" transform="translate(1244.8,924.5) scale(1,1.04)">1G</text>
<text x="0" y="0" font-size="32" text-anchor="middle" fill="#000" font-weight="bold" font-style="normal" transform="translate(1036.0,952.6) scale(1,1.04)">Resistance (Ω)</text>
<text x="0" y="0" font-size="32.7" text-anchor="middle" fill="#000" font-weight="bold" font-style="normal" transform="translate(725.0,713.2) rotate(-90) scale(1,1.04)">Power (µW)</text>
<line x1="800.6" y1="853.6" x2="851.1" y2="826.3" stroke="#128a12" stroke-width="3" stroke-linecap="butt"/>
<line x1="863.0" y1="816.2" x2="917.7" y2="745.5" stroke="#128a12" stroke-width="3" stroke-linecap="butt"/>
<line x1="929.0" y1="734.4" x2="981.0" y2="695.1" stroke="#128a12" stroke-width="3" stroke-linecap="butt"/>
<line x1="991.1" y1="683.2" x2="1048.0" y2="575.6" stroke="#128a12" stroke-width="3" stroke-linecap="butt"/>
<line x1="1059.3" y1="571.1" x2="1108.4" y2="588.4" stroke="#128a12" stroke-width="3" stroke-linecap="butt"/>
<line x1="1123.5" y1="593.6" x2="1173.0" y2="611.0" stroke="#128a12" stroke-width="3" stroke-linecap="butt"/>
<line x1="1188.4" y1="615.1" x2="1237.3" y2="624.3" stroke="#128a12" stroke-width="3" stroke-linecap="butt"/>
<circle cx="793.6" cy="857.4" r="6" fill="url(#gg)"/>
<circle cx="858.1" cy="822.5" r="6" fill="url(#gg)"/>
<circle cx="922.6" cy="739.2" r="6" fill="url(#gg)"/>
<circle cx="987.4" cy="690.3" r="6" fill="url(#gg)"/>
<circle cx="1051.7" cy="568.5" r="6" fill="url(#gg)"/>
<circle cx="1116.0" cy="591.0" r="6" fill="url(#gg)"/>
<circle cx="1180.5" cy="613.6" r="6" fill="url(#gg)"/>
<circle cx="1245.2" cy="625.8" r="6" fill="url(#gg)"/>
<text font-size="35" font-style="italic" transform="translate(811.3,559.8) scale(0.94,1)">P</text>
<text font-size="35" font-style="italic" transform="translate(883.2,560.3) scale(0.85,1)">V</text>
<text font-size="35" font-style="italic" transform="translate(951.2,559.8) scale(0.77,1)">I</text>
<line x1="845.8" y1="546.6" x2="868.4" y2="546.6" stroke="#000" stroke-width="2.2"/>
<line x1="845.8" y1="553.4" x2="868.4" y2="553.4" stroke="#000" stroke-width="2.2"/>
<line x1="918.8" y1="542.6" x2="936.6" y2="558.4" stroke="#000" stroke-width="2.1" stroke-linecap="round"/>
<line x1="918.8" y1="558.4" x2="936.6" y2="542.6" stroke="#000" stroke-width="2.1" stroke-linecap="round"/>
<text x="0" y="0" font-size="36.5" text-anchor="middle" fill="#000" font-weight="bold" font-style="normal" transform="translate(1081.0,553.5) scale(1,1.04)">25 µW</text>
<text x="0" y="0" font-size="33" text-anchor="start" fill="#000" font-weight="bold" font-style="normal" transform="translate(50.5,1015.0) scale(1,1.04)">(e)</text>
<line x1="141.9" y1="1030.6" x2="144.4" y2="1030.6" stroke="#000" stroke-width="4" stroke-linecap="round"/>
<line x1="141.9" y1="1058.8" x2="147.9" y2="1058.8" stroke="#000" stroke-width="4" stroke-linecap="round"/>
<line x1="141.9" y1="1086.9" x2="144.4" y2="1086.9" stroke="#000" stroke-width="4" stroke-linecap="round"/>
<line x1="141.9" y1="1115.0" x2="147.9" y2="1115.0" stroke="#000" stroke-width="4" stroke-linecap="round"/>
<line x1="141.9" y1="1143.1" x2="144.4" y2="1143.1" stroke="#000" stroke-width="4" stroke-linecap="round"/>
<line x1="141.9" y1="1171.2" x2="147.9" y2="1171.2" stroke="#000" stroke-width="4" stroke-linecap="round"/>
<line x1="141.9" y1="1199.4" x2="144.4" y2="1199.4" stroke="#000" stroke-width="4" stroke-linecap="round"/>
<line x1="141.9" y1="1227.5" x2="147.9" y2="1227.5" stroke="#000" stroke-width="4" stroke-linecap="round"/>
<line x1="141.9" y1="1255.6" x2="144.4" y2="1255.6" stroke="#000" stroke-width="4" stroke-linecap="round"/>
<line x1="141.9" y1="1283.8" x2="147.9" y2="1283.8" stroke="#000" stroke-width="4" stroke-linecap="round"/>
<line x1="141.9" y1="1311.9" x2="144.4" y2="1311.9" stroke="#000" stroke-width="4" stroke-linecap="round"/>
<line x1="141.9" y1="1340.0" x2="147.9" y2="1340.0" stroke="#000" stroke-width="4" stroke-linecap="round"/>
<line x1="141.9" y1="1368.1" x2="144.4" y2="1368.1" stroke="#000" stroke-width="4" stroke-linecap="round"/>
<line x1="141.9" y1="1396.2" x2="147.9" y2="1396.2" stroke="#000" stroke-width="4" stroke-linecap="round"/>
<line x1="163.8" y1="1396.3" x2="163.8" y2="1389.3" stroke="#000" stroke-width="4" stroke-linecap="round"/>
<line x1="215.6" y1="1396.3" x2="215.6" y2="1392.8" stroke="#000" stroke-width="4" stroke-linecap="round"/>
<line x1="267.5" y1="1396.3" x2="267.5" y2="1389.3" stroke="#000" stroke-width="4" stroke-linecap="round"/>
<line x1="319.4" y1="1396.3" x2="319.4" y2="1392.8" stroke="#000" stroke-width="4" stroke-linecap="round"/>
<line x1="371.2" y1="1396.3" x2="371.2" y2="1389.3" stroke="#000" stroke-width="4" stroke-linecap="round"/>
<line x1="423.1" y1="1396.3" x2="423.1" y2="1392.8" stroke="#000" stroke-width="4" stroke-linecap="round"/>
<line x1="475.0" y1="1396.3" x2="475.0" y2="1389.3" stroke="#000" stroke-width="4" stroke-linecap="round"/>
<line x1="526.9" y1="1396.3" x2="526.9" y2="1392.8" stroke="#000" stroke-width="4" stroke-linecap="round"/>
<line x1="578.8" y1="1396.3" x2="578.8" y2="1389.3" stroke="#000" stroke-width="4" stroke-linecap="round"/>
<rect x="141.9" y="1003" width="469.9" height="393.29999999999995" fill="none" stroke="#000" stroke-width="4" stroke-linejoin="miter"/>
<text x="0" y="0" font-size="32" text-anchor="end" fill="#000" font-weight="bold" font-style="normal" transform="translate(131.0,1013.0) scale(1,1.04)">40</text>
<text x="0" y="0" font-size="32" text-anchor="end" fill="#000" font-weight="bold" font-style="normal" transform="translate(131.0,1069.2) scale(1,1.04)">20</text>
<text x="0" y="0" font-size="32" text-anchor="end" fill="#000" font-weight="bold" font-style="normal" transform="translate(131.0,1125.5) scale(1,1.04)">0</text>
<text x="0" y="0" font-size="32" text-anchor="end" fill="#000" font-weight="bold" font-style="normal" transform="translate(131.0,1181.8) scale(1,1.04)">-20</text>
<text x="0" y="0" font-size="32" text-anchor="end" fill="#000" font-weight="bold" font-style="normal" transform="translate(131.0,1238.0) scale(1,1.04)">-40</text>
<text x="0" y="0" font-size="32" text-anchor="end" fill="#000" font-weight="bold" font-style="normal" transform="translate(131.0,1294.2) scale(1,1.04)">-60</text>
<text x="0" y="0" font-size="32" text-anchor="end" fill="#000" font-weight="bold" font-style="normal" transform="translate(131.0,1350.5) scale(1,1.04)">-80</text>
<text x="0" y="0" font-size="32" text-anchor="end" fill="#000" font-weight="bold" font-style="normal" transform="translate(131.0,1406.8) scale(1,1.04)">-100</text>
<text x="0" y="0" font-size="32.5" text-anchor="middle" fill="#000" font-weight="bold" font-style="normal" transform="translate(163.8,1431.5) scale(1,1.04)">0</text>
<text x="0" y="0" font-size="32.5" text-anchor="middle" fill="#000" font-weight="bold" font-style="normal" transform="translate(267.5,1431.5) scale(1,1.04)">700</text>
<text x="0" y="0" font-size="32.5" text-anchor="middle" fill="#000" font-weight="bold" font-style="normal" transform="translate(371.2,1431.5) scale(1,1.04)">1400</text>
<text x="0" y="0" font-size="32.5" text-anchor="middle" fill="#000" font-weight="bold" font-style="normal" transform="translate(475.0,1431.5) scale(1,1.04)">2100</text>
<text x="0" y="0" font-size="32.5" text-anchor="middle" fill="#000" font-weight="bold" font-style="normal" transform="translate(578.8,1431.5) scale(1,1.04)">2800</text>
<text x="0" y="0" font-size="33" text-anchor="middle" fill="#000" font-weight="bold" font-style="normal" transform="translate(376.0,1475.2) scale(1,1.04)">Time (s)</text>
<text x="0" y="0" font-size="34" text-anchor="middle" fill="#000" font-weight="bold" font-style="normal" transform="translate(66.0,1206.0) rotate(-90) scale(1,1.04)">Voltage (V)</text>
<path d="M163.8,1049.5 L450,1052 L452,1054 L586.5,1054.5 L586.5,1198 L452,1197.6 L450,1196.4 L163.8,1197.8 Z" fill="#000"/>
<text x="0" y="0" font-size="27.2" text-anchor="middle" fill="#f5f500" font-weight="bold" font-style="normal" transform="translate(373.5,1107.7) scale(1,1.04)">~2000 cycles</text>
<rect x="163.8" y="1049.5" width="15" height="148.5" fill="none" stroke="#e01010" stroke-width="1.2" stroke-dasharray="3,2"/>
<rect x="571.9" y="1055" width="15.1" height="143.3" fill="none" stroke="#e01010" stroke-width="1.2" stroke-dasharray="3,2"/>
<line x1="163.8" y1="1198.0" x2="190.0" y2="1218.0" stroke="#e01010" stroke-width="1.2" stroke-dasharray="3,2"/>
<line x1="178.8" y1="1198.0" x2="353.5" y2="1218.0" stroke="#e01010" stroke-width="1.2" stroke-dasharray="3,2"/>
<line x1="571.9" y1="1198.3" x2="413.8" y2="1218.0" stroke="#e01010" stroke-width="1.2" stroke-dasharray="3,2"/>
<line x1="587.0" y1="1198.3" x2="586.3" y2="1218.0" stroke="#e01010" stroke-width="1.2" stroke-dasharray="3,2"/>
<rect x="190.1" y="1218.2" width="163.4" height="137.9" fill="#fff" stroke="#303030" stroke-width="1.6"/>
<line x1="190.1" y1="1338.9" x2="193.1" y2="1338.9" stroke="#303030" stroke-width="1.3"/>
<line x1="190.1" y1="1321.6" x2="194.1" y2="1321.6" stroke="#303030" stroke-width="1.3"/>
<line x1="190.1" y1="1304.4" x2="193.1" y2="1304.4" stroke="#303030" stroke-width="1.3"/>
<line x1="190.1" y1="1287.2" x2="194.1" y2="1287.2" stroke="#303030" stroke-width="1.3"/>
<line x1="190.1" y1="1269.9" x2="193.1" y2="1269.9" stroke="#303030" stroke-width="1.3"/>
<line x1="190.1" y1="1252.7" x2="194.1" y2="1252.7" stroke="#303030" stroke-width="1.3"/>
<line x1="190.1" y1="1235.4" x2="193.1" y2="1235.4" stroke="#303030" stroke-width="1.3"/>
<line x1="190.1" y1="1356.1" x2="190.1" y2="1352.1" stroke="#303030" stroke-width="1.3"/>
<line x1="217.3" y1="1356.1" x2="217.3" y2="1353.1" stroke="#303030" stroke-width="1.3"/>
<line x1="244.6" y1="1356.1" x2="244.6" y2="1352.1" stroke="#303030" stroke-width="1.3"/>
<line x1="271.8" y1="1356.1" x2="271.8" y2="1353.1" stroke="#303030" stroke-width="1.3"/>
<line x1="299.0" y1="1356.1" x2="299.0" y2="1352.1" stroke="#303030" stroke-width="1.3"/>
<line x1="326.3" y1="1356.1" x2="326.3" y2="1353.1" stroke="#303030" stroke-width="1.3"/>
<line x1="353.5" y1="1356.1" x2="353.5" y2="1352.1" stroke="#303030" stroke-width="1.3"/>
<text x="0" y="0" font-size="13.5" text-anchor="end" fill="#000" font-weight="bold" font-style="normal" transform="translate(187.6,1223.0) scale(1,1.04)">40</text>
<text x="0" y="0" font-size="13.5" text-anchor="end" fill="#000" font-weight="bold" font-style="normal" transform="translate(187.6,1257.5) scale(1,1.04)">20</text>
<text x="0" y="0" font-size="13.5" text-anchor="end" fill="#000" font-weight="bold" font-style="normal" transform="translate(187.6,1292.0) scale(1,1.04)">0</text>
<text x="0" y="0" font-size="13.5" text-anchor="end" fill="#000" font-weight="bold" font-style="normal" transform="translate(187.6,1326.4) scale(1,1.04)">-20</text>
<text x="0" y="0" font-size="13.5" text-anchor="end" fill="#000" font-weight="bold" font-style="normal" transform="translate(187.6,1360.9) scale(1,1.04)">-40</text>
<text x="0" y="0" font-size="15.5" text-anchor="middle" fill="#000" font-weight="normal" font-style="normal" transform="translate(190.1,1373.1) scale(1,1.04)">0</text>
<text x="0" y="0" font-size="15.5" text-anchor="middle" fill="#000" font-weight="normal" font-style="normal" transform="translate(244.6,1373.1) scale(1,1.04)">1</text>
<text x="0" y="0" font-size="15.5" text-anchor="middle" fill="#000" font-weight="normal" font-style="normal" transform="translate(299.0,1373.1) scale(1,1.04)">2</text>
<text x="0" y="0" font-size="15.5" text-anchor="middle" fill="#000" font-weight="normal" font-style="normal" transform="translate(353.5,1373.1) scale(1,1.04)">3</text>
<text x="0" y="0" font-size="16" text-anchor="middle" fill="#000" font-weight="normal" font-style="normal" transform="translate(271.8,1387.1) scale(1,1.04)">Time (s)</text>
<text x="0" y="0" font-size="20.3" text-anchor="middle" fill="#e01010" font-weight="bold" font-style="normal" transform="translate(270.2,1240.5) scale(1,1.04)">Initial Stage</text>
<path d="M190,1249.2 L199,1249.5 C202,1250 203,1258 204,1290 C205,1320 205.5,1334 208,1336 L220,1337 L233,1335 C235,1334 236,1320 236.5,1290 C237,1258 238,1248 241,1247.5 L262,1248 L272,1249.5 C275,1251 276,1260 277,1290 C278,1320 278.5,1334 281,1336 L294,1337 L306,1335 C308,1334 309,1320 309.5,1290 C310,1258 311,1248 314,1247.5 L335,1248 L345,1249.5 C348,1251 349.5,1265 350.5,1290 C351.5,1320 352,1330 353.5,1336" fill="none" stroke="#000" stroke-width="1.7" stroke-linejoin="round"/>
<text x="0" y="0" font-size="18.5" text-anchor="middle" fill="#000" font-weight="bold" font-style="normal" transform="translate(163.4,1290.2) rotate(-90) scale(1,1.04)">Voltage (V)</text>
<rect x="413.8" y="1218.0" width="172.5" height="143.3" fill="#fff" stroke="#303030" stroke-width="1.6"/>
<line x1="413.8" y1="1343.4" x2="416.8" y2="1343.4" stroke="#303030" stroke-width="1.3"/>
<line x1="413.8" y1="1325.5" x2="417.8" y2="1325.5" stroke="#303030" stroke-width="1.3"/>
<line x1="413.8" y1="1307.6" x2="416.8" y2="1307.6" stroke="#303030" stroke-width="1.3"/>
<line x1="413.8" y1="1289.7" x2="417.8" y2="1289.7" stroke="#303030" stroke-width="1.3"/>
<line x1="413.8" y1="1271.7" x2="416.8" y2="1271.7" stroke="#303030" stroke-width="1.3"/>
<line x1="413.8" y1="1253.8" x2="417.8" y2="1253.8" stroke="#303030" stroke-width="1.3"/>
<line x1="413.8" y1="1235.9" x2="416.8" y2="1235.9" stroke="#303030" stroke-width="1.3"/>
<line x1="413.8" y1="1361.3" x2="413.8" y2="1357.3" stroke="#303030" stroke-width="1.3"/>
<line x1="435.4" y1="1361.3" x2="435.4" y2="1358.3" stroke="#303030" stroke-width="1.3"/>
<line x1="456.9" y1="1361.3" x2="456.9" y2="1357.3" stroke="#303030" stroke-width="1.3"/>
<line x1="478.5" y1="1361.3" x2="478.5" y2="1358.3" stroke="#303030" stroke-width="1.3"/>
<line x1="500.0" y1="1361.3" x2="500.0" y2="1357.3" stroke="#303030" stroke-width="1.3"/>
<line x1="521.6" y1="1361.3" x2="521.6" y2="1358.3" stroke="#303030" stroke-width="1.3"/>
<line x1="543.2" y1="1361.3" x2="543.2" y2="1357.3" stroke="#303030" stroke-width="1.3"/>
<line x1="564.7" y1="1361.3" x2="564.7" y2="1358.3" stroke="#303030" stroke-width="1.3"/>
<line x1="586.3" y1="1361.3" x2="586.3" y2="1357.3" stroke="#303030" stroke-width="1.3"/>
<text x="0" y="0" font-size="13.5" text-anchor="end" fill="#000" font-weight="bold" font-style="normal" transform="translate(411.3,1222.8) scale(1,1.04)">40</text>
<text x="0" y="0" font-size="13.5" text-anchor="end" fill="#000" font-weight="bold" font-style="normal" transform="translate(411.3,1258.6) scale(1,1.04)">20</text>
<text x="0" y="0" font-size="13.5" text-anchor="end" fill="#000" font-weight="bold" font-style="normal" transform="translate(411.3,1294.5) scale(1,1.04)">0</text>
<text x="0" y="0" font-size="13.5" text-anchor="end" fill="#000" font-weight="bold" font-style="normal" transform="translate(411.3,1330.3) scale(1,1.04)">-20</text>
<text x="0" y="0" font-size="13.5" text-anchor="end" fill="#000" font-weight="bold" font-style="normal" transform="translate(411.3,1366.1) scale(1,1.04)">-40</text>
<text x="0" y="0" font-size="15" text-anchor="middle" fill="#000" font-weight="normal" font-style="normal" transform="translate(413.8,1378.3) scale(1,1.04)">2834</text>
<text x="0" y="0" font-size="15" text-anchor="middle" fill="#000" font-weight="normal" font-style="normal" transform="translate(456.9,1378.3) scale(1,1.04)">2835</text>
<text x="0" y="0" font-size="15" text-anchor="middle" fill="#000" font-weight="normal" font-style="normal" transform="translate(500.0,1378.3) scale(1,1.04)">2836</text>
<text x="0" y="0" font-size="15" text-anchor="middle" fill="#000" font-weight="normal" font-style="normal" transform="translate(543.2,1378.3) scale(1,1.04)">2837</text>
<text x="0" y="0" font-size="15" text-anchor="middle" fill="#000" font-weight="normal" font-style="normal" transform="translate(586.3,1378.3) scale(1,1.04)">2838</text>
<text x="0" y="0" font-size="16" text-anchor="middle" fill="#000" font-weight="normal" font-style="normal" transform="translate(500.0,1392.3) scale(1,1.04)">Time (s)</text>
<text x="0" y="0" font-size="20.3" text-anchor="middle" fill="#e01010" font-weight="bold" font-style="normal" transform="translate(511.3,1240.3) scale(1,1.04)">Final Stage</text>
<path d="M413.8,1341 L421.5,1340 C423,1339 423.5,1320 424,1290 C424.5,1262 425,1254 428,1253.3 L445,1254 L453.5,1255.5 C456,1257 457,1270 458,1300 C459,1330 459.5,1340 463,1341.3 L473,1341.5 L482,1339.5 C484,1338 485,1320 485.5,1290 C486,1262 486.5,1254 489.5,1253.3 L505,1254 L512,1255.5 C514.5,1257 515.5,1270 516.5,1300 C517.5,1330 518,1340 521,1341.3 L530,1341.5 L539,1339.5 C541,1338 542,1320 542.5,1290 C543,1262 543.5,1254 546.5,1253.3 L562,1254 L570,1255.5 C572.5,1257 573.5,1270 574.5,1300 C575.5,1330 576,1340 579,1341.3 L586.3,1341.5" fill="none" stroke="#000" stroke-width="1.7" stroke-linejoin="round"/>
<text x="0" y="0" font-size="18.5" text-anchor="middle" fill="#000" font-weight="bold" font-style="normal" transform="translate(383.6,1292.7) rotate(-90) scale(1,1.04)">Voltage (V)</text>
<defs>
<linearGradient id="topsurf" x1="0" y1="0" x2="1" y2="0"><stop offset="0" stop-color="#eea6f2"/><stop offset="0.5" stop-color="#ea88f0"/><stop offset="1" stop-color="#f0a8f4"/></linearGradient>
<radialGradient id="bR" cx="0.5" cy="0.5" r="0.55" fx="0.35" fy="0.3"><stop offset="0" stop-color="#ff9a9a"/><stop offset="0.4" stop-color="#ee1010"/><stop offset="1" stop-color="#8a0000"/></radialGradient>
<radialGradient id="bB" cx="0.5" cy="0.5" r="0.55" fx="0.35" fy="0.3"><stop offset="0" stop-color="#8080ff"/><stop offset="0.4" stop-color="#1818c8"/><stop offset="1" stop-color="#000060"/></radialGradient>
<radialGradient id="bN" cx="0.5" cy="0.5" r="0.55" fx="0.35" fy="0.3"><stop offset="0" stop-color="#5050a0"/><stop offset="0.4" stop-color="#101068"/><stop offset="1" stop-color="#000020"/></radialGradient>
<radialGradient id="bB2" cx="0.5" cy="0.5" r="0.6" fx="0.45" fy="0.78"><stop offset="0" stop-color="#ff9cff"/><stop offset="0.25" stop-color="#4a3cff"/><stop offset="0.65" stop-color="#1414f0"/><stop offset="1" stop-color="#06065a"/></radialGradient>
<radialGradient id="bR2" cx="0.5" cy="0.5" r="0.6" fx="0.4" fy="0.75"><stop offset="0" stop-color="#ffa0a0"/><stop offset="0.4" stop-color="#ff1a0a"/><stop offset="1" stop-color="#c00000"/></radialGradient>
<pattern id="hex" patternUnits="userSpaceOnUse" width="27" height="15.6" patternTransform="rotate(-9) scale(1,0.6)"><rect width="27" height="15.6" fill="#0c0c0c"/><path d="M0,7.8 L4.5,0 L13.5,0 L18,7.8 L13.5,15.6 L4.5,15.6 Z M18,7.8 L27,7.8" fill="none" stroke="#a8a8a8" stroke-width="1.3"/></pattern>
</defs>
<text x="701.5" y="1004.5" font-size="33" text-anchor="start" fill="#000" font-weight="bold">(f)</text>
<path d="M816.0,1024.7 L820.4,1025.3 L824.8,1025.8 L829.2,1026.3 L833.6,1026.8 L838.0,1027.3 L842.4,1027.8 L846.8,1028.3 L851.2,1028.7 L855.6,1029.2 L860.0,1029.6 L864.4,1030.0 L868.9,1030.4 L873.3,1030.8 L877.7,1031.2 L882.1,1031.6 L886.5,1031.9 L890.9,1032.2 L895.3,1032.4 L899.7,1032.7 L904.1,1032.9 L908.5,1033.2 L912.9,1033.4 L917.3,1033.6 L921.7,1033.8 L926.1,1034.0 L930.5,1034.1 L934.9,1034.2 L939.3,1034.2 L943.7,1034.1 L948.1,1033.9 L952.5,1033.4 L956.9,1032.9 L961.3,1032.3 L965.8,1031.6 L970.2,1030.8 L974.6,1029.7 L979.0,1028.4 L983.4,1027.0 L987.8,1025.5 L992.2,1024.0 L996.6,1022.7 L1001.0,1021.3 L1005.4,1019.9 L1009.8,1018.5 L1014.2,1017.2 L1018.6,1015.9 L1023.0,1014.7 L1027.4,1013.7 L1031.8,1012.7 L1036.2,1011.7 L1040.6,1010.8 L1045.0,1009.9 L1049.4,1009.0 L1053.8,1008.2 L1058.2,1007.3 L1062.7,1006.5 L1067.1,1005.7 L1071.5,1004.9 L1075.9,1004.1 L1080.3,1003.4 L1084.7,1002.7 L1089.1,1002.1 L1093.5,1001.5 L1097.9,1000.9 L1102.3,1000.3 L1106.7,999.8 L1111.1,999.3 L1115.5,999.0 L1119.9,998.8 L1124.3,998.9 L1128.7,999.1 L1133.1,999.6 L1137.5,1000.1 L1141.9,1000.8 L1146.3,1001.6 L1150.7,1002.4 L1155.1,1003.2 L1159.6,1003.9 L1164.0,1004.7 L1168.4,1005.5 L1172.8,1006.3 L1177.2,1007.2 L1181.6,1008.1 L1186.0,1009.1 L1190.4,1010.1 L1194.8,1011.1 L1199.2,1012.2 L1203.6,1013.3 L1208.0,1014.5 L1208.0,1021.4 L1203.6,1020.2 L1199.2,1019.0 L1194.8,1017.8 L1190.4,1016.7 L1186.0,1015.6 L1181.6,1014.6 L1177.2,1013.7 L1172.8,1012.7 L1168.4,1011.9 L1164.0,1011.0 L1159.6,1010.3 L1155.1,1009.5 L1150.7,1008.7 L1146.3,1007.9 L1141.9,1007.1 L1137.5,1006.4 L1133.1,1005.9 L1128.7,1005.5 L1124.3,1005.2 L1119.9,1005.2 L1115.5,1005.4 L1111.1,1005.8 L1106.7,1006.4 L1102.3,1007.0 L1097.9,1007.7 L1093.5,1008.4 L1089.1,1009.0 L1084.7,1009.7 L1080.3,1010.5 L1075.9,1011.3 L1071.5,1012.1 L1067.1,1012.9 L1062.7,1013.8 L1058.2,1014.7 L1053.8,1015.5 L1049.4,1016.4 L1045.0,1017.3 L1040.6,1018.3 L1036.2,1019.2 L1031.8,1020.2 L1027.4,1021.3 L1023.0,1022.4 L1018.6,1023.5 L1014.2,1024.8 L1009.8,1026.2 L1005.4,1027.7 L1001.0,1029.1 L996.6,1030.5 L992.2,1031.9 L987.8,1033.4 L983.4,1034.9 L979.0,1036.4 L974.6,1037.8 L970.2,1038.9 L965.8,1039.7 L961.3,1040.4 L956.9,1041.1 L952.5,1041.7 L948.1,1042.2 L943.7,1042.5 L939.3,1042.6 L934.9,1042.6 L930.5,1042.7 L926.1,1042.6 L921.7,1042.6 L917.3,1042.5 L912.9,1042.4 L908.5,1042.2 L904.1,1042.1 L899.7,1041.9 L895.3,1041.7 L890.9,1041.5 L886.5,1041.2 L882.1,1040.9 L877.7,1040.6 L873.3,1040.2 L868.9,1039.8 L864.4,1039.4 L860.0,1039.0 L855.6,1038.6 L851.2,1038.1 L846.8,1037.7 L842.4,1037.2 L838.0,1036.7 L833.6,1036.1 L829.2,1035.5 L824.8,1034.9 L820.4,1034.3 L816.0,1033.7 Z" fill="#bc1ef0"/>
<path d="M816.0,1033.4 L820.4,1034.0 L824.8,1034.6 L829.2,1035.2 L833.6,1035.8 L838.0,1036.3 L842.4,1036.9 L846.8,1037.4 L851.2,1037.8 L855.6,1038.3 L860.0,1038.7 L864.4,1039.1 L868.9,1039.5 L873.3,1039.9 L877.7,1040.3 L882.1,1040.6 L886.5,1040.9 L890.9,1041.2 L895.3,1041.4 L899.7,1041.6 L904.1,1041.8 L908.5,1041.9 L912.9,1042.1 L917.3,1042.2 L921.7,1042.3 L926.1,1042.3 L930.5,1042.4 L934.9,1042.4 L939.3,1042.3 L943.7,1042.2 L948.1,1041.9 L952.5,1041.4 L956.9,1040.8 L961.3,1040.1 L965.8,1039.4 L970.2,1038.6 L974.6,1037.5 L979.0,1036.2 L983.4,1034.7 L987.8,1033.1 L992.2,1031.7 L996.6,1030.3 L1001.0,1028.9 L1005.4,1027.4 L1009.8,1026.0 L1014.2,1024.6 L1018.6,1023.3 L1023.0,1022.1 L1027.4,1021.0 L1031.8,1020.0 L1036.2,1019.0 L1040.6,1018.0 L1045.0,1017.1 L1049.4,1016.2 L1053.8,1015.3 L1058.2,1014.4 L1062.7,1013.6 L1067.1,1012.7 L1071.5,1011.8 L1075.9,1011.0 L1080.3,1010.2 L1084.7,1009.5 L1089.1,1008.8 L1093.5,1008.1 L1097.9,1007.4 L1102.3,1006.8 L1106.7,1006.1 L1111.1,1005.6 L1115.5,1005.2 L1119.9,1005.0 L1124.3,1005.0 L1128.7,1005.3 L1133.1,1005.7 L1137.5,1006.2 L1141.9,1006.9 L1146.3,1007.7 L1150.7,1008.5 L1155.1,1009.3 L1159.6,1010.1 L1164.0,1010.8 L1168.4,1011.6 L1172.8,1012.5 L1177.2,1013.4 L1181.6,1014.4 L1186.0,1015.4 L1190.4,1016.5 L1194.8,1017.6 L1199.2,1018.7 L1203.6,1019.9 L1208.0,1021.2 L1208.0,1029.2 L1203.6,1027.9 L1199.2,1026.6 L1194.8,1025.4 L1190.4,1024.2 L1186.0,1023.1 L1181.6,1022.0 L1177.2,1021.0 L1172.8,1020.0 L1168.4,1019.1 L1164.0,1018.3 L1159.6,1017.5 L1155.1,1016.7 L1150.7,1015.8 L1146.3,1015.0 L1141.9,1014.3 L1137.5,1013.6 L1133.1,1013.0 L1128.7,1012.7 L1124.3,1012.5 L1119.9,1012.5 L1115.5,1012.8 L1111.1,1013.2 L1106.7,1013.9 L1102.3,1014.6 L1097.9,1015.3 L1093.5,1016.1 L1089.1,1016.8 L1084.7,1017.6 L1080.3,1018.4 L1075.9,1019.3 L1071.5,1020.2 L1067.1,1021.1 L1062.7,1022.1 L1058.2,1023.0 L1053.8,1023.9 L1049.4,1024.8 L1045.0,1025.8 L1040.6,1026.7 L1036.2,1027.7 L1031.8,1028.8 L1027.4,1029.9 L1023.0,1031.0 L1018.6,1032.2 L1014.2,1033.6 L1009.8,1035.0 L1005.4,1036.5 L1001.0,1037.9 L996.6,1039.4 L992.2,1040.8 L987.8,1042.4 L983.4,1043.9 L979.0,1045.5 L974.6,1046.9 L970.2,1048.0 L965.8,1048.9 L961.3,1049.6 L956.9,1050.4 L952.5,1051.0 L948.1,1051.6 L943.7,1051.9 L939.3,1052.1 L934.9,1052.3 L930.5,1052.4 L926.1,1052.4 L921.7,1052.5 L917.3,1052.5 L912.9,1052.6 L908.5,1052.5 L904.1,1052.5 L899.7,1052.4 L895.3,1052.2 L890.9,1052.0 L886.5,1051.8 L882.1,1051.5 L877.7,1051.2 L873.3,1050.9 L868.9,1050.5 L864.4,1050.1 L860.0,1049.7 L855.6,1049.3 L851.2,1048.8 L846.8,1048.3 L842.4,1047.8 L838.0,1047.2 L833.6,1046.6 L829.2,1046.0 L824.8,1045.3 L820.4,1044.6 L816.0,1043.9 Z" fill="#ff5c28"/>
<path d="M816.0,1043.6 L820.4,1044.3 L824.8,1045.0 L829.2,1045.7 L833.6,1046.3 L838.0,1046.9 L842.4,1047.5 L846.8,1048.0 L851.2,1048.5 L855.6,1048.9 L860.0,1049.4 L864.4,1049.8 L868.9,1050.2 L873.3,1050.5 L877.7,1050.9 L882.1,1051.2 L886.5,1051.5 L890.9,1051.7 L895.3,1051.9 L899.7,1052.1 L904.1,1052.2 L908.5,1052.2 L912.9,1052.3 L917.3,1052.3 L921.7,1052.2 L926.1,1052.2 L930.5,1052.1 L934.9,1052.0 L939.3,1051.9 L943.7,1051.7 L948.1,1051.3 L952.5,1050.7 L956.9,1050.1 L961.3,1049.4 L965.8,1048.6 L970.2,1047.8 L974.6,1046.6 L979.0,1045.2 L983.4,1043.7 L987.8,1042.1 L992.2,1040.6 L996.6,1039.1 L1001.0,1037.7 L1005.4,1036.2 L1009.8,1034.7 L1014.2,1033.3 L1018.6,1032.0 L1023.0,1030.7 L1027.4,1029.6 L1031.8,1028.5 L1036.2,1027.5 L1040.6,1026.5 L1045.0,1025.5 L1049.4,1024.6 L1053.8,1023.6 L1058.2,1022.7 L1062.7,1021.8 L1067.1,1020.9 L1071.5,1020.0 L1075.9,1019.1 L1080.3,1018.2 L1084.7,1017.4 L1089.1,1016.6 L1093.5,1015.9 L1097.9,1015.1 L1102.3,1014.3 L1106.7,1013.6 L1111.1,1013.0 L1115.5,1012.6 L1119.9,1012.3 L1124.3,1012.3 L1128.7,1012.4 L1133.1,1012.8 L1137.5,1013.4 L1141.9,1014.1 L1146.3,1014.8 L1150.7,1015.6 L1155.1,1016.5 L1159.6,1017.3 L1164.0,1018.0 L1168.4,1018.9 L1172.8,1019.8 L1177.2,1020.8 L1181.6,1021.8 L1186.0,1022.9 L1190.4,1024.0 L1194.8,1025.2 L1199.2,1026.4 L1203.6,1027.7 L1208.0,1029.0 L1208.0,1029.9 L1203.6,1028.6 L1199.2,1027.3 L1194.8,1026.1 L1190.4,1024.9 L1186.0,1023.7 L1181.6,1022.7 L1177.2,1021.6 L1172.8,1020.7 L1168.4,1019.7 L1164.0,1018.9 L1159.6,1018.1 L1155.1,1017.3 L1150.7,1016.5 L1146.3,1015.7 L1141.9,1014.9 L1137.5,1014.2 L1133.1,1013.7 L1128.7,1013.3 L1124.3,1013.1 L1119.9,1013.2 L1115.5,1013.4 L1111.1,1013.9 L1106.7,1014.5 L1102.3,1015.2 L1097.9,1016.0 L1093.5,1016.8 L1089.1,1017.5 L1084.7,1018.3 L1080.3,1019.1 L1075.9,1020.0 L1071.5,1020.9 L1067.1,1021.9 L1062.7,1022.8 L1058.2,1023.7 L1053.8,1024.6 L1049.4,1025.6 L1045.0,1026.5 L1040.6,1027.5 L1036.2,1028.5 L1031.8,1029.5 L1027.4,1030.6 L1023.0,1031.8 L1018.6,1033.0 L1014.2,1034.3 L1009.8,1035.8 L1005.4,1037.2 L1001.0,1038.7 L996.6,1040.2 L992.2,1041.6 L987.8,1043.2 L983.4,1044.7 L979.0,1046.3 L974.6,1047.7 L970.2,1048.8 L965.8,1049.7 L961.3,1050.5 L956.9,1051.2 L952.5,1051.8 L948.1,1052.4 L943.7,1052.8 L939.3,1053.0 L934.9,1053.1 L930.5,1053.2 L926.1,1053.3 L921.7,1053.4 L917.3,1053.4 L912.9,1053.5 L908.5,1053.4 L904.1,1053.4 L899.7,1053.3 L895.3,1053.2 L890.9,1053.0 L886.5,1052.7 L882.1,1052.5 L877.7,1052.1 L873.3,1051.8 L868.9,1051.4 L864.4,1051.0 L860.0,1050.6 L855.6,1050.2 L851.2,1049.8 L846.8,1049.3 L842.4,1048.7 L838.0,1048.1 L833.6,1047.5 L829.2,1046.9 L824.8,1046.2 L820.4,1045.5 L816.0,1044.8 Z" fill="#5a2a08"/>
<path d="M816.0,1044.7 L820.4,1045.4 L824.8,1046.1 L829.2,1046.7 L833.6,1047.4 L838.0,1048.0 L842.4,1048.6 L846.8,1049.1 L851.2,1049.6 L855.6,1050.0 L860.0,1050.5 L864.4,1050.9 L868.9,1051.3 L873.3,1051.6 L877.7,1052.0 L882.1,1052.3 L886.5,1052.6 L890.9,1052.8 L895.3,1053.0 L899.7,1053.1 L904.1,1053.2 L908.5,1053.3 L912.9,1053.3 L917.3,1053.3 L921.7,1053.2 L926.1,1053.2 L930.5,1053.1 L934.9,1053.0 L939.3,1052.8 L943.7,1052.6 L948.1,1052.2 L952.5,1051.7 L956.9,1051.1 L961.3,1050.3 L965.8,1049.6 L970.2,1048.7 L974.6,1047.5 L979.0,1046.1 L983.4,1044.6 L987.8,1043.0 L992.2,1041.5 L996.6,1040.1 L1001.0,1038.6 L1005.4,1037.1 L1009.8,1035.6 L1014.2,1034.2 L1018.6,1032.9 L1023.0,1031.6 L1027.4,1030.5 L1031.8,1029.4 L1036.2,1028.4 L1040.6,1027.4 L1045.0,1026.4 L1049.4,1025.4 L1053.8,1024.5 L1058.2,1023.6 L1062.7,1022.7 L1067.1,1021.7 L1071.5,1020.8 L1075.9,1019.9 L1080.3,1019.0 L1084.7,1018.2 L1089.1,1017.4 L1093.5,1016.7 L1097.9,1015.9 L1102.3,1015.1 L1106.7,1014.4 L1111.1,1013.8 L1115.5,1013.3 L1119.9,1013.0 L1124.3,1013.0 L1128.7,1013.2 L1133.1,1013.6 L1137.5,1014.1 L1141.9,1014.8 L1146.3,1015.6 L1150.7,1016.4 L1155.1,1017.2 L1159.6,1018.0 L1164.0,1018.8 L1168.4,1019.6 L1172.8,1020.6 L1177.2,1021.5 L1181.6,1022.5 L1186.0,1023.6 L1190.4,1024.8 L1194.8,1025.9 L1199.2,1027.2 L1203.6,1028.5 L1208.0,1029.8 L1208.0,1037.5 L1203.6,1036.1 L1199.2,1034.7 L1194.8,1033.4 L1190.4,1032.2 L1186.0,1031.0 L1181.6,1029.8 L1177.2,1028.7 L1172.8,1027.7 L1168.4,1026.8 L1164.0,1025.9 L1159.6,1025.1 L1155.1,1024.3 L1150.7,1023.4 L1146.3,1022.6 L1141.9,1021.8 L1137.5,1021.2 L1133.1,1020.6 L1128.7,1020.3 L1124.3,1020.1 L1119.9,1020.2 L1115.5,1020.6 L1111.1,1021.1 L1106.7,1021.8 L1102.3,1022.6 L1097.9,1023.4 L1093.5,1024.3 L1089.1,1025.1 L1084.7,1026.0 L1080.3,1026.9 L1075.9,1027.9 L1071.5,1028.8 L1067.1,1029.8 L1062.7,1030.8 L1058.2,1031.8 L1053.8,1032.7 L1049.4,1033.7 L1045.0,1034.7 L1040.6,1035.7 L1036.2,1036.8 L1031.8,1037.8 L1027.4,1039.0 L1023.0,1040.1 L1018.6,1041.4 L1014.2,1042.8 L1009.8,1044.2 L1005.4,1045.8 L1001.0,1047.3 L996.6,1048.8 L992.2,1050.3 L987.8,1051.9 L983.4,1053.5 L979.0,1055.1 L974.6,1056.5 L970.2,1057.7 L965.8,1058.6 L961.3,1059.4 L956.9,1060.2 L952.5,1060.9 L948.1,1061.5 L943.7,1062.0 L939.3,1062.2 L934.9,1062.4 L930.5,1062.6 L926.1,1062.8 L921.7,1063.0 L917.3,1063.2 L912.9,1063.3 L908.5,1063.4 L904.1,1063.5 L899.7,1063.5 L895.3,1063.4 L890.9,1063.2 L886.5,1063.0 L882.1,1062.7 L877.7,1062.5 L873.3,1062.1 L868.9,1061.8 L864.4,1061.4 L860.0,1061.0 L855.6,1060.6 L851.2,1060.1 L846.8,1059.6 L842.4,1059.0 L838.0,1058.4 L833.6,1057.7 L829.2,1057.0 L824.8,1056.3 L820.4,1055.5 L816.0,1054.7 Z" fill="#6cf222"/>
<path d="M791.3,1008.7 L816.0,1024.7 L816.0,1033.7 L791.3,1016.8 Z" fill="#c648e4"/>
<path d="M791.3,1016.5 L816.0,1033.4 L816.0,1043.9 L791.3,1026.0 Z" fill="#ff7a40"/>
<path d="M791.3,1026.7 L816.0,1044.7 L816.0,1054.7 L793.3,1035.7 Z" fill="#7cf040"/>
<linearGradient id="tsv" x1="0" y1="0" x2="0" y2="1"><stop offset="0" stop-color="#f6b4f6"/><stop offset="1" stop-color="#ee86ee"/></linearGradient>
<path d="M791.3,1008.7 L796.1,1009.5 L800.9,1010.2 L805.6,1010.9 L810.4,1011.6 L815.2,1012.2 L820.0,1012.8 L824.7,1013.3 L829.5,1013.9 L834.3,1014.4 L839.1,1014.9 L843.8,1015.3 L848.6,1015.7 L853.4,1015.9 L858.2,1016.1 L863.0,1016.2 L867.7,1016.2 L872.5,1016.3 L877.3,1016.4 L882.1,1016.4 L886.8,1016.5 L891.6,1016.5 L896.4,1016.4 L901.2,1016.0 L905.9,1015.4 L910.7,1014.6 L915.5,1013.5 L920.3,1012.4 L925.1,1011.2 L929.8,1010.0 L934.6,1008.8 L939.4,1007.6 L944.2,1006.5 L948.9,1005.3 L953.7,1004.0 L958.5,1002.7 L963.3,1001.4 L968.0,1000.2 L972.8,999.0 L977.6,997.8 L982.4,996.6 L987.1,995.5 L991.9,994.5 L996.7,993.8 L1001.5,993.0 L1006.3,992.4 L1011.0,991.8 L1015.8,991.3 L1020.6,991.0 L1025.4,990.8 L1030.1,990.6 L1034.9,990.4 L1039.7,990.3 L1044.5,990.2 L1049.2,990.1 L1054.0,990.0 L1058.8,990.0 L1063.6,990.1 L1068.4,990.4 L1073.1,990.8 L1077.9,991.4 L1082.7,992.0 L1087.5,992.7 L1092.2,993.3 L1097.0,994.0 L1101.8,994.8 L1106.6,995.7 L1111.3,996.7 L1116.1,997.7 L1120.9,998.8 L1120.9,998.8 L1116.5,998.9 L1112.1,999.2 L1107.6,999.7 L1103.2,1000.2 L1098.8,1000.8 L1094.4,1001.4 L1090.0,1002.0 L1085.5,1002.6 L1081.1,1003.3 L1076.7,1004.0 L1072.3,1004.8 L1067.9,1005.5 L1063.5,1006.4 L1059.0,1007.2 L1054.6,1008.0 L1050.2,1008.9 L1045.8,1009.7 L1041.4,1010.6 L1036.9,1011.5 L1032.5,1012.5 L1028.1,1013.5 L1023.7,1014.6 L1019.3,1015.7 L1014.8,1017.0 L1010.4,1018.3 L1006.0,1019.7 L1001.6,1021.1 L997.2,1022.5 L992.8,1023.9 L988.3,1025.3 L983.9,1026.8 L979.5,1028.3 L975.1,1029.6 L970.7,1030.7 L966.2,1031.5 L961.8,1032.2 L957.4,1032.8 L953.0,1033.4 L948.6,1033.8 L944.1,1034.1 L939.7,1034.2 L935.3,1034.2 L930.9,1034.1 L926.5,1034.0 L922.1,1033.8 L917.6,1033.6 L913.2,1033.4 L908.8,1033.2 L904.4,1032.9 L900.0,1032.7 L895.5,1032.4 L891.1,1032.2 L886.7,1031.9 L882.3,1031.6 L877.9,1031.2 L873.4,1030.8 L869.0,1030.4 L864.6,1030.0 L860.2,1029.6 L855.8,1029.2 L851.4,1028.7 L846.9,1028.3 L842.5,1027.8 L838.1,1027.3 L833.7,1026.8 L829.3,1026.3 L824.8,1025.8 L820.4,1025.3 L816.0,1024.7 Z" fill="url(#tsv)"/>
<text x="0" y="0" font-size="25.5" font-weight="bold" fill="#fff" transform="translate(946.5,1032.5) rotate(-16.5) skewX(-12)">Top Part</text>
<path d="M1015.0,1182.1 L1019.0,1179.8 L1022.9,1177.5 L1026.9,1175.3 L1030.9,1173.2 L1034.9,1171.2 L1038.8,1169.4 L1042.8,1167.9 L1046.8,1166.5 L1050.8,1165.5 L1054.7,1164.7 L1058.7,1163.9 L1062.7,1163.1 L1066.7,1162.4 L1070.6,1161.7 L1074.6,1161.1 L1078.6,1160.6 L1082.6,1160.0 L1086.5,1159.5 L1090.5,1159.0 L1094.5,1158.6 L1098.5,1158.2 L1102.4,1157.7 L1106.4,1157.3 L1110.4,1156.9 L1114.4,1156.4 L1118.3,1156.0 L1122.3,1155.6 L1126.3,1155.2 L1130.3,1154.9 L1134.2,1154.6 L1138.2,1154.3 L1142.2,1154.2 L1146.2,1154.0 L1150.1,1154.0 L1154.1,1154.0 L1158.1,1154.0 L1162.1,1154.0 L1166.0,1154.0 L1170.0,1154.0 L1170.0,1157.0 L1166.0,1157.7 L1162.1,1158.5 L1158.1,1159.2 L1154.1,1159.9 L1150.1,1160.5 L1146.2,1161.2 L1142.2,1162.0 L1138.2,1162.7 L1134.2,1163.6 L1130.3,1164.4 L1126.3,1165.2 L1122.3,1166.0 L1118.3,1166.8 L1114.4,1167.6 L1110.4,1168.3 L1106.4,1169.0 L1102.4,1169.6 L1098.5,1170.1 L1094.5,1170.6 L1090.5,1171.0 L1086.5,1171.5 L1082.6,1171.8 L1078.6,1172.2 L1074.6,1172.6 L1070.6,1172.9 L1066.7,1173.2 L1062.7,1173.5 L1058.7,1173.8 L1054.7,1174.2 L1050.8,1174.5 L1046.8,1174.9 L1042.8,1175.7 L1038.8,1176.6 L1034.9,1177.8 L1030.9,1179.1 L1026.9,1180.5 L1022.9,1182.0 L1019.0,1183.5 L1015.0,1185.1 Z" fill="#c8c490" opacity="0.6"/>
<path d="M832.0,1198.5 L836.6,1198.6 L841.2,1198.7 L845.8,1198.8 L850.4,1198.8 L855.0,1198.9 L859.6,1198.9 L864.2,1199.0 L868.8,1199.0 L873.4,1199.0 L877.9,1199.0 L882.5,1199.0 L887.1,1199.0 L891.7,1199.0 L896.3,1198.9 L900.9,1198.7 L905.5,1198.5 L910.1,1198.1 L914.7,1197.7 L919.3,1197.3 L923.9,1196.8 L928.5,1196.3 L933.1,1195.8 L937.7,1195.3 L942.3,1194.7 L946.9,1194.1 L951.5,1193.5 L956.1,1192.7 L960.7,1191.9 L965.3,1191.0 L969.8,1190.1 L974.4,1189.0 L979.0,1187.9 L983.6,1186.7 L988.2,1185.5 L992.8,1184.1 L997.4,1182.2 L1002.0,1179.9 L1006.6,1177.3 L1011.2,1174.4 L1015.8,1171.4 L1020.4,1168.4 L1025.0,1165.4 L1029.6,1162.5 L1034.2,1159.9 L1038.8,1157.6 L1043.4,1155.7 L1048.0,1154.2 L1052.6,1153.3 L1057.2,1152.6 L1061.7,1151.9 L1066.3,1151.3 L1070.9,1150.7 L1075.5,1150.2 L1080.1,1149.7 L1084.7,1149.3 L1089.3,1148.9 L1093.9,1148.5 L1098.5,1148.1 L1103.1,1147.8 L1107.7,1147.4 L1112.3,1147.0 L1116.9,1146.6 L1121.5,1146.3 L1126.1,1145.9 L1130.7,1145.6 L1135.3,1145.4 L1139.9,1145.2 L1144.5,1145.1 L1149.1,1145.0 L1153.6,1145.0 L1158.2,1145.1 L1162.8,1145.1 L1167.4,1145.2 L1172.0,1145.4 L1176.6,1145.6 L1181.2,1145.8 L1185.8,1146.1 L1190.4,1146.4 L1195.0,1146.8 L1195.0,1156.4 L1190.4,1156.3 L1185.8,1156.2 L1181.2,1156.1 L1176.6,1156.1 L1172.0,1156.0 L1167.4,1156.0 L1162.8,1156.0 L1158.2,1156.0 L1153.6,1156.0 L1149.1,1156.0 L1144.5,1156.1 L1139.9,1156.3 L1135.3,1156.5 L1130.7,1156.8 L1126.1,1157.2 L1121.5,1157.7 L1116.9,1158.2 L1112.3,1158.7 L1107.7,1159.2 L1103.1,1159.7 L1098.5,1160.2 L1093.9,1160.7 L1089.3,1161.2 L1084.7,1161.8 L1080.1,1162.4 L1075.5,1163.0 L1070.9,1163.7 L1066.3,1164.5 L1061.7,1165.3 L1057.2,1166.2 L1052.6,1167.1 L1048.0,1168.2 L1043.4,1169.7 L1038.8,1171.5 L1034.2,1173.6 L1029.6,1175.9 L1025.0,1178.4 L1020.4,1181.0 L1015.8,1183.6 L1011.2,1186.2 L1006.6,1188.7 L1002.0,1191.1 L997.4,1193.2 L992.8,1195.0 L988.2,1196.6 L983.6,1198.0 L979.0,1199.5 L974.4,1200.9 L969.8,1202.2 L965.3,1203.5 L960.7,1204.6 L956.1,1205.7 L951.5,1206.6 L946.9,1207.3 L942.3,1207.8 L937.7,1208.2 L933.1,1208.4 L928.5,1208.7 L923.9,1208.9 L919.3,1209.1 L914.7,1209.2 L910.1,1209.4 L905.5,1209.5 L900.9,1209.7 L896.3,1209.8 L891.7,1209.9 L887.1,1210.1 L882.5,1210.2 L877.9,1210.4 L873.4,1210.5 L868.8,1210.7 L864.2,1210.8 L859.6,1211.0 L855.0,1211.1 L850.4,1211.2 L845.8,1211.4 L841.2,1211.5 L836.6,1211.6 L832.0,1211.7 Z" fill="#a020e8"/>
<path d="M805.5,1144.5 L812.0,1144.5 L836.0,1199.0 L832.0,1212.0 Z" fill="#a020e8"/>
<path d="M810.0,1145.0 L814.9,1148.0 L819.7,1151.0 L824.6,1153.7 L829.5,1156.1 L834.4,1158.2 L839.2,1159.8 L844.1,1161.0 L849.0,1162.2 L853.9,1163.3 L858.7,1164.4 L863.6,1165.3 L868.5,1166.2 L873.4,1166.9 L878.2,1167.4 L883.1,1167.8 L888.0,1168.0 L892.8,1168.0 L897.7,1167.9 L902.6,1167.7 L907.5,1167.5 L912.3,1167.2 L917.2,1166.9 L922.1,1166.5 L927.0,1166.1 L931.8,1165.7 L936.7,1165.3 L941.6,1164.9 L946.5,1164.4 L951.3,1163.9 L956.2,1163.3 L961.1,1162.7 L965.9,1162.0 L970.8,1161.3 L975.7,1160.5 L980.6,1159.7 L985.4,1158.8 L990.3,1157.9 L995.2,1156.9 L1000.1,1155.6 L1004.9,1154.3 L1009.8,1152.9 L1014.7,1151.4 L1019.6,1150.1 L1024.4,1148.8 L1029.3,1147.5 L1034.2,1146.2 L1039.1,1144.9 L1043.9,1143.6 L1048.8,1142.4 L1053.7,1141.3 L1058.5,1140.3 L1063.4,1139.4 L1068.3,1138.4 L1073.2,1137.6 L1078.0,1136.7 L1082.9,1135.9 L1087.8,1135.2 L1092.7,1134.6 L1097.5,1134.2 L1102.4,1133.8 L1107.3,1133.5 L1112.2,1133.3 L1117.0,1133.0 L1121.9,1132.7 L1126.8,1132.5 L1131.6,1132.3 L1136.5,1132.2 L1141.4,1132.1 L1146.3,1132.0 L1151.1,1132.0 L1156.0,1132.1 L1160.9,1132.4 L1165.8,1132.8 L1170.6,1133.3 L1175.5,1133.9 L1180.4,1134.5 L1185.3,1135.3 L1190.1,1136.1 L1195.0,1137.0 L1195.0,1146.8 L1190.1,1146.4 L1185.3,1146.1 L1180.4,1145.8 L1175.5,1145.5 L1170.6,1145.3 L1165.8,1145.2 L1160.9,1145.1 L1156.0,1145.0 L1151.1,1145.0 L1146.3,1145.0 L1141.4,1145.1 L1136.5,1145.3 L1131.6,1145.6 L1126.8,1145.9 L1121.9,1146.2 L1117.0,1146.6 L1112.2,1147.0 L1107.3,1147.4 L1102.4,1147.8 L1097.5,1148.2 L1092.7,1148.6 L1087.8,1149.0 L1082.9,1149.4 L1078.0,1149.9 L1073.2,1150.4 L1068.3,1151.0 L1063.4,1151.6 L1058.5,1152.4 L1053.7,1153.1 L1048.8,1154.0 L1043.9,1155.5 L1039.1,1157.4 L1034.2,1159.9 L1029.3,1162.7 L1024.4,1165.8 L1019.6,1169.0 L1014.7,1172.2 L1009.8,1175.3 L1004.9,1178.3 L1000.1,1180.9 L995.2,1183.2 L990.3,1184.9 L985.4,1186.3 L980.6,1187.5 L975.7,1188.7 L970.8,1189.8 L965.9,1190.9 L961.1,1191.8 L956.2,1192.7 L951.3,1193.5 L946.5,1194.2 L941.6,1194.8 L936.7,1195.4 L931.8,1195.9 L927.0,1196.5 L922.1,1197.0 L917.2,1197.5 L912.3,1197.9 L907.5,1198.3 L902.6,1198.6 L897.7,1198.9 L892.8,1199.0 L888.0,1199.0 L883.1,1199.0 L878.2,1199.0 L873.4,1199.0 L868.5,1199.0 L863.6,1199.0 L858.7,1198.9 L853.9,1198.9 L849.0,1198.8 L844.1,1198.8 L839.2,1198.7 L834.4,1198.6 L829.5,1188.5 L824.6,1177.6 L819.7,1166.7 L814.9,1155.9 L810.0,1145.0 Z" fill="#3ee4f6"/>
<path d="M832.0,1193.5 L836.6,1193.6 L841.2,1193.7 L845.8,1193.8 L850.4,1193.8 L855.0,1193.9 L859.6,1193.9 L864.2,1194.0 L868.8,1194.0 L873.4,1194.0 L877.9,1194.0 L882.5,1194.0 L887.1,1194.0 L891.7,1194.0 L896.3,1193.9 L900.9,1193.7 L905.5,1193.5 L910.1,1193.1 L914.7,1192.7 L919.3,1192.3 L923.9,1191.8 L928.5,1191.3 L933.1,1190.8 L937.7,1190.3 L942.3,1189.7 L946.9,1189.1 L951.5,1188.5 L956.1,1187.7 L960.7,1186.9 L965.3,1186.0 L969.8,1185.1 L974.4,1184.0 L979.0,1182.9 L983.6,1181.7 L988.2,1180.5 L992.8,1179.1 L997.4,1177.2 L1002.0,1174.9 L1006.6,1172.3 L1011.2,1169.4 L1015.8,1166.4 L1020.4,1163.4 L1025.0,1160.4 L1029.6,1157.5 L1034.2,1154.9 L1038.8,1152.6 L1043.4,1150.7 L1048.0,1149.2 L1052.6,1148.3 L1057.2,1147.6 L1061.7,1146.9 L1066.3,1146.3 L1070.9,1145.7 L1075.5,1145.2 L1080.1,1144.7 L1084.7,1144.3 L1089.3,1143.9 L1093.9,1143.5 L1098.5,1143.1 L1103.1,1142.8 L1107.7,1142.4 L1112.3,1142.0 L1116.9,1141.6 L1121.5,1141.3 L1126.1,1140.9 L1130.7,1140.6 L1135.3,1140.4 L1139.9,1140.2 L1144.5,1140.1 L1149.1,1140.0 L1153.6,1140.0 L1158.2,1140.1 L1162.8,1140.1 L1167.4,1140.2 L1172.0,1140.4 L1176.6,1140.6 L1181.2,1140.8 L1185.8,1141.1 L1190.4,1141.4 L1195.0,1141.8 L1195.0,1146.8 L1190.4,1146.4 L1185.8,1146.1 L1181.2,1145.8 L1176.6,1145.6 L1172.0,1145.4 L1167.4,1145.2 L1162.8,1145.1 L1158.2,1145.1 L1153.6,1145.0 L1149.1,1145.0 L1144.5,1145.1 L1139.9,1145.2 L1135.3,1145.4 L1130.7,1145.6 L1126.1,1145.9 L1121.5,1146.3 L1116.9,1146.6 L1112.3,1147.0 L1107.7,1147.4 L1103.1,1147.8 L1098.5,1148.1 L1093.9,1148.5 L1089.3,1148.9 L1084.7,1149.3 L1080.1,1149.7 L1075.5,1150.2 L1070.9,1150.7 L1066.3,1151.3 L1061.7,1151.9 L1057.2,1152.6 L1052.6,1153.3 L1048.0,1154.2 L1043.4,1155.7 L1038.8,1157.6 L1034.2,1159.9 L1029.6,1162.5 L1025.0,1165.4 L1020.4,1168.4 L1015.8,1171.4 L1011.2,1174.4 L1006.6,1177.3 L1002.0,1179.9 L997.4,1182.2 L992.8,1184.1 L988.2,1185.5 L983.6,1186.7 L979.0,1187.9 L974.4,1189.0 L969.8,1190.1 L965.3,1191.0 L960.7,1191.9 L956.1,1192.7 L951.5,1193.5 L946.9,1194.1 L942.3,1194.7 L937.7,1195.3 L933.1,1195.8 L928.5,1196.3 L923.9,1196.8 L919.3,1197.3 L914.7,1197.7 L910.1,1198.1 L905.5,1198.5 L900.9,1198.7 L896.3,1198.9 L891.7,1199.0 L887.1,1199.0 L882.5,1199.0 L877.9,1199.0 L873.4,1199.0 L868.8,1199.0 L864.2,1199.0 L859.6,1198.9 L855.0,1198.9 L850.4,1198.8 L845.8,1198.8 L841.2,1198.7 L836.6,1198.6 L832.0,1198.5 Z" fill="#22d8f0"/>
<path d="M1020.0,1146.0 L1023.6,1144.4 L1027.1,1142.8 L1030.7,1141.3 L1034.3,1139.8 L1037.9,1138.4 L1041.4,1137.1 L1045.0,1136.0 L1048.6,1135.0 L1052.1,1134.1 L1055.7,1132.7 L1059.3,1131.3 L1062.9,1129.9 L1066.4,1128.5 L1070.0,1127.3 L1073.6,1126.1 L1077.1,1125.0 L1080.7,1124.1 L1084.3,1123.4 L1087.9,1122.8 L1091.4,1122.5 L1095.0,1122.4 L1098.6,1122.4 L1102.1,1122.4 L1105.7,1122.4 L1109.3,1122.4 L1112.9,1122.4 L1116.4,1122.4 L1120.0,1122.4 L1123.6,1122.4 L1127.1,1122.4 L1130.7,1122.4 L1134.3,1122.4 L1137.9,1122.4 L1141.4,1122.4 L1145.0,1122.4 L1148.6,1122.4 L1152.1,1122.5 L1155.7,1122.7 L1159.3,1123.0 L1162.9,1123.3 L1166.4,1123.7 L1170.0,1124.2 L1173.6,1124.7 L1177.1,1125.3 L1180.7,1125.9 L1184.3,1126.5 L1187.9,1127.1 L1191.4,1127.6 L1195.0,1127.6 L1195.0,1138.1 L1191.4,1137.5 L1187.9,1136.9 L1184.3,1136.4 L1180.7,1135.9 L1177.1,1135.4 L1173.6,1135.0 L1170.0,1134.7 L1166.4,1134.4 L1162.9,1134.1 L1159.3,1133.9 L1155.7,1133.8 L1152.1,1133.7 L1148.6,1133.7 L1145.0,1133.8 L1141.4,1133.8 L1137.9,1134.0 L1134.3,1134.2 L1130.7,1134.4 L1127.1,1134.6 L1123.6,1134.9 L1120.0,1135.2 L1116.4,1135.6 L1112.9,1135.9 L1109.3,1136.3 L1105.7,1136.6 L1102.1,1137.0 L1098.6,1137.4 L1095.0,1137.8 L1091.4,1138.2 L1087.9,1138.8 L1084.3,1139.3 L1080.7,1140.0 L1077.1,1140.6 L1073.6,1141.3 L1070.0,1142.1 L1066.4,1142.9 L1062.9,1143.7 L1059.3,1144.5 L1055.7,1145.4 L1052.1,1146.3 L1048.6,1147.2 L1045.0,1148.2 L1041.4,1149.3 L1037.9,1150.5 L1034.3,1151.7 L1030.7,1153.1 L1027.1,1154.4 L1023.6,1155.8 L1020.0,1157.3 Z" fill="#f4ec2a"/>
<path d="M1018.0,1146.0 L1022.0,1146.0 L1026.0,1158.0 L1022.0,1159.0 Z" fill="#b0a010"/>
<path d="M800.0,1115.8 L804.9,1116.3 L809.9,1116.7 L814.8,1117.0 L819.8,1117.2 L824.7,1117.3 L829.7,1117.4 L834.6,1117.5 L839.6,1117.5 L844.5,1117.4 L849.5,1117.2 L854.4,1116.8 L859.3,1116.3 L864.3,1115.7 L869.2,1115.0 L874.2,1114.3 L879.1,1113.6 L884.1,1112.8 L889.0,1112.1 L894.0,1111.4 L898.9,1110.7 L903.9,1109.9 L908.8,1109.1 L913.7,1108.2 L918.7,1107.3 L923.6,1106.3 L928.6,1105.4 L933.5,1104.4 L938.5,1103.3 L943.4,1102.2 L948.4,1101.1 L953.3,1099.8 L958.3,1098.5 L963.2,1097.1 L968.1,1095.7 L973.1,1094.3 L978.0,1093.0 L983.0,1091.7 L987.9,1090.5 L992.9,1089.3 L997.8,1088.1 L1002.8,1086.8 L1007.7,1085.6 L1012.7,1084.5 L1017.6,1083.7 L1022.6,1083.1 L1027.5,1082.9 L1032.4,1082.8 L1037.4,1082.6 L1042.3,1082.5 L1047.3,1082.4 L1052.2,1082.3 L1057.2,1082.3 L1062.1,1082.2 L1067.1,1082.2 L1072.0,1082.3 L1077.0,1082.8 L1081.9,1083.6 L1086.8,1084.7 L1091.8,1086.0 L1096.7,1087.4 L1101.7,1088.9 L1106.6,1090.3 L1111.6,1091.6 L1116.5,1092.9 L1121.5,1094.3 L1126.4,1095.7 L1131.4,1097.2 L1136.3,1098.7 L1141.2,1100.3 L1146.2,1101.9 L1151.1,1103.4 L1156.1,1105.0 L1161.0,1106.5 L1166.0,1108.1 L1170.9,1109.7 L1175.9,1111.3 L1180.8,1112.9 L1185.8,1114.6 L1190.7,1116.2 L1190.7,1127.6 L1186.0,1126.8 L1181.3,1126.0 L1176.6,1125.2 L1171.9,1124.5 L1167.2,1123.8 L1162.5,1123.3 L1157.9,1122.9 L1153.2,1122.6 L1148.5,1122.4 L1143.8,1122.4 L1139.1,1122.4 L1134.4,1122.4 L1129.7,1122.4 L1125.0,1122.4 L1120.3,1122.4 L1115.6,1122.4 L1110.9,1122.4 L1106.2,1122.4 L1101.5,1122.4 L1096.9,1122.4 L1092.2,1122.5 L1087.5,1122.9 L1082.8,1123.7 L1078.1,1124.8 L1073.4,1126.2 L1068.7,1127.7 L1064.0,1129.5 L1059.3,1131.3 L1054.6,1133.2 L1049.9,1135.1 L1045.2,1136.9 L1040.5,1138.7 L1035.9,1140.7 L1031.2,1142.8 L1026.5,1145.1 L1021.8,1147.4 L1017.1,1149.6 L1012.4,1151.8 L1007.7,1154.1 L1003.0,1156.4 L998.3,1158.6 L993.6,1160.7 L988.9,1162.4 L984.2,1163.9 L979.5,1165.5 L974.8,1166.9 L970.2,1168.3 L965.5,1169.6 L960.8,1170.8 L956.1,1172.0 L951.4,1173.0 L946.7,1173.9 L942.0,1174.7 L937.3,1175.4 L932.6,1176.1 L927.9,1176.7 L923.2,1177.4 L918.5,1178.0 L913.8,1178.5 L909.2,1179.0 L904.5,1179.4 L899.8,1179.7 L895.1,1179.9 L890.4,1180.0 L885.7,1180.0 L881.0,1180.0 L876.3,1179.9 L871.6,1179.8 L866.9,1179.7 L862.2,1179.5 L857.5,1179.3 L852.8,1179.1 L848.2,1178.8 L843.5,1178.5 L838.8,1178.2 L834.1,1176.8 L829.4,1174.3 L824.7,1171.4 L820.0,1168.3 Z" fill="url(#hex)"/>
<path d="M1000,1152 C1060,1130 1120,1122 1188,1124" fill="none" stroke="#e8d820" stroke-width="1.4" opacity="0.85"/>
<path d="M1004,1144 C1060,1123 1120,1116 1188,1119" fill="none" stroke="#e8d820" stroke-width="1.4" opacity="0.85"/>
<path d="M1008,1136 C1060,1116 1120,1110 1188,1114" fill="none" stroke="#e8d820" stroke-width="1.4" opacity="0.85"/>
<polyline points="826.0,1166.7 830.8,1169.6 835.5,1171.8 840.3,1172.8 845.1,1173.1 849.8,1173.4 854.6,1173.7 859.4,1173.9 864.2,1174.1 868.9,1174.2 873.7,1174.3 878.5,1174.4 883.2,1174.5 888.0,1174.5 892.8,1174.5 897.5,1174.3 902.3,1174.1 907.1,1173.7 911.8,1173.2 916.6,1172.7 921.4,1172.1 926.2,1171.5 930.9,1170.8 935.7,1170.1 940.5,1169.4 945.2,1168.7 950.0,1167.8 954.8,1166.8 959.5,1165.6 964.3,1164.4 969.1,1163.1 973.8,1161.7 978.6,1160.2 983.4,1158.7 988.2,1157.1 992.9,1155.4 997.7,1153.4 1002.5,1151.2 1007.2,1148.8 1012.0,1146.5" fill="none" stroke="#3cc8e8" stroke-width="1.8" stroke-dasharray="16,5" opacity="0.9"/>
<polyline points="826.0,1159.7 830.8,1162.6 835.5,1164.8 840.3,1165.8 845.1,1166.1 849.8,1166.4 854.6,1166.7 859.4,1166.9 864.2,1167.1 868.9,1167.2 873.7,1167.3 878.5,1167.4 883.2,1167.5 888.0,1167.5 892.8,1167.5 897.5,1167.3 902.3,1167.1 907.1,1166.7 911.8,1166.2 916.6,1165.7 921.4,1165.1 926.2,1164.5 930.9,1163.8 935.7,1163.1 940.5,1162.4 945.2,1161.7 950.0,1160.8 954.8,1159.8 959.5,1158.6 964.3,1157.4 969.1,1156.1 973.8,1154.7 978.6,1153.2 983.4,1151.7 988.2,1150.1 992.9,1148.4 997.7,1146.4 1002.5,1144.2 1007.2,1141.8 1012.0,1139.5" fill="none" stroke="#3cc8e8" stroke-width="1.8" stroke-dasharray="16,5" opacity="0.9"/>
<text x="0" y="0" font-size="27" font-weight="bold" fill="#fff" transform="translate(942,1141.5) rotate(-13.5) skewX(-6)">Bottom Part</text>
<circle cx="829.3" cy="1079.3" r="4.6" fill="url(#bB)"/>
<circle cx="875" cy="1083.3" r="4.6" fill="url(#bB)"/>
<circle cx="906.7" cy="1098.3" r="4.6" fill="url(#bB)"/>
<circle cx="926.7" cy="1076.7" r="4.6" fill="url(#bB)"/>
<circle cx="906" cy="1069.3" r="4.6" fill="url(#bB)"/>
<circle cx="862.7" cy="1064" r="4.6" fill="url(#bB)"/>
<circle cx="826.7" cy="1057.3" r="4.6" fill="url(#bB)"/>
<circle cx="959.3" cy="1061.7" r="4.6" fill="url(#bB)"/>
<circle cx="969.3" cy="1076" r="4.6" fill="url(#bB)"/>
<circle cx="986.7" cy="1074" r="4.6" fill="url(#bB)"/>
<circle cx="1025" cy="1079.3" r="4.6" fill="url(#bB)"/>
<circle cx="1026.7" cy="1060" r="4.6" fill="url(#bB)"/>
<circle cx="1038.3" cy="1049" r="4.6" fill="url(#bB)"/>
<circle cx="1155" cy="1046" r="4.6" fill="url(#bB)"/>
<circle cx="1077" cy="1047" r="4.6" fill="url(#bB)"/>
<circle cx="1075" cy="1033.3" r="4.6" fill="url(#bN)"/>
<circle cx="1088.3" cy="1032.7" r="4.6" fill="url(#bN)"/>
<circle cx="1083" cy="1034" r="4.6" fill="url(#bN)"/>
<circle cx="1106.7" cy="1032.7" r="4.6" fill="url(#bN)"/>
<circle cx="1075" cy="1048.3" r="4.6" fill="url(#bN)"/>
<circle cx="1086.7" cy="1050.7" r="4.6" fill="url(#bN)"/>
<circle cx="1106.7" cy="1043.3" r="4.6" fill="url(#bN)"/>
<circle cx="1116" cy="1043.3" r="4.6" fill="url(#bN)"/>
<circle cx="920" cy="1094.3" r="4.8" fill="url(#bR)"/>
<circle cx="951.7" cy="1091" r="4.8" fill="url(#bR)"/>
<circle cx="995" cy="1080" r="4.8" fill="url(#bR)"/>
<circle cx="996.7" cy="1086.7" r="4.8" fill="url(#bR)"/>
<circle cx="1026.7" cy="1085" r="4.8" fill="url(#bR)"/>
<circle cx="1048.3" cy="1066" r="4.8" fill="url(#bR)"/>
<circle cx="1063.3" cy="1081.7" r="4.8" fill="url(#bR)"/>
<circle cx="1083.3" cy="1063.3" r="4.8" fill="url(#bR)"/>
<circle cx="1086.7" cy="1065" r="4.8" fill="url(#bR)"/>
<circle cx="1095" cy="1069.3" r="4.8" fill="url(#bR)"/>
<circle cx="1093.3" cy="1077.3" r="4.8" fill="url(#bR)"/>
<circle cx="1115" cy="1054" r="4.8" fill="url(#bR)"/>
<circle cx="1126.7" cy="1069.3" r="4.8" fill="url(#bR)"/>
<circle cx="1117.3" cy="1080" r="4.8" fill="url(#bR)"/>
<circle cx="1161.7" cy="1078.7" r="4.8" fill="url(#bR)"/>
<circle cx="1167.3" cy="1072.7" r="4.8" fill="url(#bR)"/>
<circle cx="1098.3" cy="1091.7" r="4.8" fill="url(#bR)"/>
<circle cx="1164.3" cy="1105.3" r="4.8" fill="url(#bR)"/>
<circle cx="1076.7" cy="1117.3" r="4.8" fill="url(#bR)"/>
<circle cx="1090" cy="1109.3" r="4.8" fill="url(#bR)"/>
<circle cx="1116.7" cy="1100" r="4.8" fill="url(#bR)"/>
<circle cx="993.3" cy="1110" r="4.8" fill="url(#bR)"/>
<circle cx="1053.3" cy="1125" r="4.8" fill="url(#bR)"/>
<circle cx="931.7" cy="1121.7" r="4.8" fill="url(#bR)"/>
<circle cx="896.7" cy="1113.3" r="4.8" fill="url(#bR)"/>
<circle cx="875" cy="1121.7" r="4.8" fill="url(#bR)"/>
<circle cx="839.3" cy="1124" r="4.8" fill="url(#bR)"/>
<circle cx="905.5" cy="1133" r="4.8" fill="url(#bR)"/>
<circle cx="847.6" cy="1146.8" r="4.8" fill="url(#bR)"/>
<circle cx="856" cy="1159" r="4.8" fill="url(#bR)"/>
<circle cx="875.7" cy="1137.2" r="4.8" fill="url(#bR)"/>
<circle cx="1044" cy="1096" r="4.8" fill="url(#bR)"/>
<circle cx="1102" cy="1120" r="4.8" fill="url(#bR)"/>
<path d="M833,1150 C820,1150 818,1185 834,1219 C849,1185 846,1150 833,1150 Z" fill="none" stroke="#c81818" stroke-width="2.3" stroke-dasharray="0.1,3.4" stroke-linecap="round"/>
<path d="M834,1219 L832.3,1268" fill="none" stroke="#c81818" stroke-width="2.3" stroke-dasharray="0.1,3.4" stroke-linecap="round"/>
<path d="M828.3,1268.5 L836.3,1268.5 L832.3,1275.8 Z" fill="#d01818"/>
<path d="M1188,1112 C1172,1112 1174,1150 1188,1187 C1202,1150 1204,1112 1188,1112 Z" fill="none" stroke="#c81818" stroke-width="2.3" stroke-dasharray="0.1,3.4" stroke-linecap="round"/>
<path d="M1188,1187 L1189.4,1264" fill="none" stroke="#c81818" stroke-width="2.3" stroke-dasharray="0.1,3.4" stroke-linecap="round"/>
<path d="M1185.4,1264.5 L1193.4,1264.5 L1189.4,1271.8 Z" fill="#d01818"/>
<circle cx="959.3" cy="1217" r="4.8" fill="url(#bR)"/>
<circle cx="959.3" cy="1233.4" r="4.8" fill="url(#bB)"/>
<text x="970.3" y="1223.6" font-size="13.1" text-anchor="start" fill="#000" font-weight="bold">Positive Charge</text>
<text x="970.3" y="1239.2" font-size="13.1" text-anchor="start" fill="#000" font-weight="bold">Negative Charge</text>
<rect x="706" y="1282.8" width="277.5" height="59.5" fill="#4e4e4e"/>
<rect x="706" y="1342.3" width="277.5" height="44.7" fill="#08f6f8"/>
<rect x="706" y="1387" width="277.5" height="43.5" fill="#e60cf2"/>
<rect x="708" y="1291.6000000000001" width="273.5" height="5.6" fill="#000"/>
<circle cx="715" cy="1294.4" r="8.6" fill="#000"/>
<circle cx="761" cy="1294.4" r="8.6" fill="#000"/>
<circle cx="797" cy="1294.4" r="8.6" fill="#000"/>
<circle cx="836" cy="1294.4" r="8.6" fill="#000"/>
<circle cx="881" cy="1294.4" r="8.6" fill="#000"/>
<circle cx="918" cy="1294.4" r="8.6" fill="#000"/>
<circle cx="968" cy="1294.4" r="8.6" fill="#000"/>
<rect x="708" y="1311.0" width="273.5" height="5.6" fill="#000"/>
<circle cx="715" cy="1313.8" r="8.6" fill="#000"/>
<circle cx="761" cy="1313.8" r="8.6" fill="#000"/>
<circle cx="797" cy="1313.8" r="8.6" fill="#000"/>
<circle cx="836" cy="1313.8" r="8.6" fill="#000"/>
<circle cx="881" cy="1313.8" r="8.6" fill="#000"/>
<circle cx="918" cy="1313.8" r="8.6" fill="#000"/>
<circle cx="968" cy="1313.8" r="8.6" fill="#000"/>
<rect x="708" y="1330.5" width="273.5" height="5.6" fill="#000"/>
<circle cx="715" cy="1333.3" r="8.6" fill="#000"/>
<circle cx="761" cy="1333.3" r="8.6" fill="#000"/>
<circle cx="797" cy="1333.3" r="8.6" fill="#000"/>
<circle cx="836" cy="1333.3" r="8.6" fill="#000"/>
<circle cx="881" cy="1333.3" r="8.6" fill="#000"/>
<circle cx="918" cy="1333.3" r="8.6" fill="#000"/>
<circle cx="968" cy="1333.3" r="8.6" fill="#000"/>
<path d="M749.8,1358.5 L741.0,1360.5 L747.1,1366.1 L738.4,1363.8 L739.9,1371.2 L734.0,1365.4 L730.4,1372.4 L729.3,1364.9 L721.7,1369.1 L725.6,1362.3 L716.5,1362.4 L724.3,1358.5 L716.5,1354.6 L725.6,1354.7 L721.7,1347.9 L729.3,1352.1 L730.4,1344.6 L734.0,1351.6 L739.9,1345.8 L738.4,1353.2 L747.1,1350.9 L741.0,1356.5 Z" fill="#f012e8"/>
<path d="M780.3,1362.6 L771.2,1362.4 L775.0,1369.2 L767.5,1364.9 L766.3,1372.4 L762.8,1365.4 L756.8,1371.1 L758.4,1363.7 L749.7,1365.9 L755.9,1360.4 L747.1,1358.3 L756.0,1356.4 L749.9,1350.8 L758.6,1353.1 L757.3,1345.7 L763.0,1351.6 L766.8,1344.7 L767.7,1352.2 L775.4,1348.1 L771.3,1354.8 L780.5,1354.7 L772.6,1358.6 Z" fill="#f012e8"/>
<path d="M807.3,1366.4 L798.6,1363.9 L799.9,1371.4 L794.2,1365.5 L790.3,1372.3 L789.5,1364.8 L781.8,1368.8 L786.0,1362.1 L776.8,1362.1 L784.8,1358.3 L777.1,1354.2 L786.2,1354.5 L782.5,1347.7 L789.9,1352.1 L791.3,1344.6 L794.7,1351.6 L800.8,1345.9 L799.0,1353.3 L807.8,1351.3 L801.5,1356.7 L810.2,1358.9 L801.3,1360.7 Z" fill="#f012e8"/>
<path d="M833.5,1369.5 L826.1,1365.0 L824.6,1372.4 L821.3,1365.4 L815.2,1371.0 L817.1,1363.6 L808.2,1365.6 L814.6,1360.2 L805.9,1357.9 L814.9,1356.2 L809.0,1350.4 L817.6,1353.0 L816.5,1345.5 L822.1,1351.5 L826.0,1344.7 L826.8,1352.3 L834.6,1348.3 L830.2,1355.0 L839.4,1355.1 L831.4,1358.8 L839.0,1363.0 L829.8,1362.5 Z" fill="#f012e8"/>
<path d="M859.1,1371.5 L853.6,1365.5 L849.5,1372.2 L848.9,1364.7 L841.0,1368.5 L845.5,1361.9 L836.3,1361.7 L844.4,1358.1 L836.9,1353.8 L846.0,1354.4 L842.5,1347.4 L849.8,1352.0 L851.5,1344.6 L854.6,1351.6 L860.8,1346.1 L858.8,1353.5 L867.7,1351.6 L861.2,1356.9 L869.9,1359.3 L860.9,1360.9 L866.6,1366.7 L858.1,1364.0 Z" fill="#f012e8"/>
<path d="M882.9,1372.5 L879.9,1365.3 L873.5,1370.8 L875.7,1363.4 L866.8,1365.2 L873.4,1360.0 L864.7,1357.5 L873.7,1356.0 L868.1,1350.1 L876.6,1352.9 L875.8,1345.4 L881.1,1351.5 L885.3,1344.8 L885.8,1352.4 L893.7,1348.6 L889.2,1355.1 L898.3,1355.5 L890.2,1359.0 L897.6,1363.4 L888.5,1362.7 L891.9,1369.7 L884.7,1365.1 Z" fill="#f012e8"/>
<path d="M907.2,1372.1 L906.9,1364.6 L898.9,1368.2 L903.6,1361.8 L894.4,1361.3 L902.6,1357.9 L895.3,1353.4 L904.4,1354.2 L901.1,1347.2 L908.2,1351.9 L910.1,1344.5 L913.0,1351.7 L919.5,1346.3 L917.2,1353.6 L926.1,1352.0 L919.4,1357.1 L928.0,1359.7 L919.0,1361.0 L924.6,1367.1 L916.1,1364.2 L916.8,1371.7 L911.6,1365.5 Z" fill="#f012e8"/>
<path d="M932.5,1370.6 L934.9,1363.3 L925.9,1364.8 L932.7,1359.8 L924.2,1357.1 L933.2,1355.9 L927.8,1349.8 L936.2,1352.8 L935.6,1345.2 L940.7,1351.5 L945.2,1344.9 L945.4,1352.5 L953.5,1348.9 L948.7,1355.3 L957.8,1355.9 L949.6,1359.2 L956.8,1363.8 L947.8,1362.9 L950.9,1369.9 L943.8,1365.1 L941.8,1372.5 L939.0,1365.3 Z" fill="#f012e8"/>
<circle cx="716.3" cy="1295.2" r="7.3" fill="url(#bR2)"/>
<path d="M716.3,1295.2 L723.8,1291 L723.8,1299.4 Z" fill="#400000" opacity="0.7"/>
<rect x="714.8" y="1305" width="3" height="37" fill="#fff"/>
<path d="M711.3,1341 L721.3,1341 L716.3,1349 Z" fill="#fff"/>
<circle cx="716.3" cy="1358.1" r="7.3" fill="url(#bB2)"/>
<circle cx="749.3" cy="1295.2" r="7.3" fill="url(#bR2)"/>
<path d="M749.3,1295.2 L756.8,1291 L756.8,1299.4 Z" fill="#400000" opacity="0.7"/>
<rect x="747.8" y="1305" width="3" height="37" fill="#fff"/>
<path d="M744.3,1341 L754.3,1341 L749.3,1349 Z" fill="#fff"/>
<circle cx="749.3" cy="1358.1" r="7.3" fill="url(#bB2)"/>
<circle cx="778.9" cy="1295.2" r="7.3" fill="url(#bR2)"/>
<path d="M778.9,1295.2 L786.4,1291 L786.4,1299.4 Z" fill="#400000" opacity="0.7"/>
<rect x="777.4" y="1305" width="3" height="37" fill="#fff"/>
<path d="M773.9,1341 L783.9,1341 L778.9,1349 Z" fill="#fff"/>
<circle cx="778.9" cy="1358.1" r="7.3" fill="url(#bB2)"/>
<circle cx="807.6" cy="1295.2" r="7.3" fill="url(#bR2)"/>
<path d="M807.6,1295.2 L815.1,1291 L815.1,1299.4 Z" fill="#400000" opacity="0.7"/>
<rect x="806.1" y="1305" width="3" height="37" fill="#fff"/>
<path d="M802.6,1341 L812.6,1341 L807.6,1349 Z" fill="#fff"/>
<circle cx="807.6" cy="1358.1" r="7.3" fill="url(#bB2)"/>
<circle cx="838.2" cy="1295.2" r="7.3" fill="url(#bR2)"/>
<path d="M838.2,1295.2 L845.7,1291 L845.7,1299.4 Z" fill="#400000" opacity="0.7"/>
<rect x="836.7" y="1305" width="3" height="37" fill="#fff"/>
<path d="M833.2,1341 L843.2,1341 L838.2,1349 Z" fill="#fff"/>
<circle cx="838.2" cy="1358.1" r="7.3" fill="url(#bB2)"/>
<circle cx="867.6" cy="1295.2" r="7.3" fill="url(#bR2)"/>
<path d="M867.6,1295.2 L875.1,1291 L875.1,1299.4 Z" fill="#400000" opacity="0.7"/>
<rect x="866.1" y="1305" width="3" height="37" fill="#fff"/>
<path d="M862.6,1341 L872.6,1341 L867.6,1349 Z" fill="#fff"/>
<circle cx="867.6" cy="1358.1" r="7.3" fill="url(#bB2)"/>
<circle cx="895.8" cy="1295.2" r="7.3" fill="url(#bR2)"/>
<path d="M895.8,1295.2 L903.3,1291 L903.3,1299.4 Z" fill="#400000" opacity="0.7"/>
<rect x="894.3" y="1305" width="3" height="37" fill="#fff"/>
<path d="M890.8,1341 L900.8,1341 L895.8,1349 Z" fill="#fff"/>
<circle cx="895.8" cy="1358.1" r="7.3" fill="url(#bB2)"/>
<circle cx="926.4" cy="1295.2" r="7.3" fill="url(#bR2)"/>
<path d="M926.4,1295.2 L933.9,1291 L933.9,1299.4 Z" fill="#400000" opacity="0.7"/>
<rect x="924.9" y="1305" width="3" height="37" fill="#fff"/>
<path d="M921.4,1341 L931.4,1341 L926.4,1349 Z" fill="#fff"/>
<circle cx="926.4" cy="1358.1" r="7.3" fill="url(#bB2)"/>
<circle cx="955.8" cy="1295.2" r="7.3" fill="url(#bR2)"/>
<path d="M955.8,1295.2 L963.3,1291 L963.3,1299.4 Z" fill="#400000" opacity="0.7"/>
<rect x="954.3" y="1305" width="3" height="37" fill="#fff"/>
<path d="M950.8,1341 L960.8,1341 L955.8,1349 Z" fill="#fff"/>
<circle cx="955.8" cy="1358.1" r="7.3" fill="url(#bB2)"/>
<text x="847.5" y="1385.6" font-size="23.5" text-anchor="middle" fill="#000" font-weight="bold">Recombination</text>
<text x="704" y="1271.8" font-weight="bold" font-size="20">(i)<tspan font-size="17" dx="1">W/O CTL</tspan></text>
<rect x="1052.6" y="1271.2" width="251.4000000000001" height="51.4" fill="#4e4e4e"/>
<rect x="1052.6" y="1322.6" width="251.4000000000001" height="36.6" fill="#fbf400"/>
<rect x="1052.6" y="1359.2" width="251.4000000000001" height="37.4" fill="#08eef8"/>
<rect x="1052.6" y="1396.6" width="251.4000000000001" height="36.2" fill="#d845f6"/>
<rect x="1054.6" y="1278.2" width="247.4000000000001" height="5.2" fill="#000"/>
<circle cx="1060" cy="1280.8" r="7.8" fill="#000"/>
<circle cx="1104" cy="1280.8" r="7.8" fill="#000"/>
<circle cx="1135" cy="1280.8" r="7.8" fill="#000"/>
<circle cx="1165" cy="1280.8" r="7.8" fill="#000"/>
<circle cx="1213" cy="1280.8" r="7.8" fill="#000"/>
<circle cx="1245" cy="1280.8" r="7.8" fill="#000"/>
<circle cx="1293" cy="1280.8" r="7.8" fill="#000"/>
<rect x="1054.6" y="1295.4" width="247.4000000000001" height="5.2" fill="#000"/>
<circle cx="1060" cy="1298" r="7.8" fill="#000"/>
<circle cx="1104" cy="1298" r="7.8" fill="#000"/>
<circle cx="1135" cy="1298" r="7.8" fill="#000"/>
<circle cx="1165" cy="1298" r="7.8" fill="#000"/>
<circle cx="1213" cy="1298" r="7.8" fill="#000"/>
<circle cx="1245" cy="1298" r="7.8" fill="#000"/>
<circle cx="1293" cy="1298" r="7.8" fill="#000"/>
<rect x="1054.6" y="1311.9" width="247.4000000000001" height="5.2" fill="#000"/>
<circle cx="1060" cy="1314.5" r="7.8" fill="#000"/>
<circle cx="1104" cy="1314.5" r="7.8" fill="#000"/>
<circle cx="1135" cy="1314.5" r="7.8" fill="#000"/>
<circle cx="1165" cy="1314.5" r="7.8" fill="#000"/>
<circle cx="1213" cy="1314.5" r="7.8" fill="#000"/>
<circle cx="1245" cy="1314.5" r="7.8" fill="#000"/>
<circle cx="1293" cy="1314.5" r="7.8" fill="#000"/>
<circle cx="1062.2" cy="1280.8" r="7.2" fill="url(#bR2)"/>
<path d="M1062.2,1280.8 L1069.6000000000001,1276.8 L1069.6000000000001,1284.8 Z" fill="#400000" opacity="0.7"/>
<rect x="1060.9" y="1290" width="2.6" height="37" fill="#66dd22"/>
<path d="M1057.7,1327 L1066.7,1327 L1062.2,1334 Z" fill="#66dd22"/>
<circle cx="1062.2" cy="1366.5" r="7" fill="url(#bB2)"/>
<circle cx="1092.2" cy="1280.8" r="7.2" fill="url(#bR2)"/>
<path d="M1092.2,1280.8 L1099.6000000000001,1276.8 L1099.6000000000001,1284.8 Z" fill="#400000" opacity="0.7"/>
<rect x="1090.9" y="1290" width="2.6" height="37" fill="#66dd22"/>
<path d="M1087.7,1327 L1096.7,1327 L1092.2,1334 Z" fill="#66dd22"/>
<circle cx="1092.2" cy="1366.5" r="7" fill="url(#bB2)"/>
<circle cx="1118.7" cy="1280.8" r="7.2" fill="url(#bR2)"/>
<path d="M1118.7,1280.8 L1126.1000000000001,1276.8 L1126.1000000000001,1284.8 Z" fill="#400000" opacity="0.7"/>
<rect x="1117.4" y="1290" width="2.6" height="37" fill="#66dd22"/>
<path d="M1114.2,1327 L1123.2,1327 L1118.7,1334 Z" fill="#66dd22"/>
<circle cx="1118.7" cy="1366.5" r="7" fill="url(#bB2)"/>
<circle cx="1145.2" cy="1280.8" r="7.2" fill="url(#bR2)"/>
<path d="M1145.2,1280.8 L1152.6000000000001,1276.8 L1152.6000000000001,1284.8 Z" fill="#400000" opacity="0.7"/>
<rect x="1143.9" y="1290" width="2.6" height="37" fill="#66dd22"/>
<path d="M1140.7,1327 L1149.7,1327 L1145.2,1334 Z" fill="#66dd22"/>
<circle cx="1145.2" cy="1366.5" r="7" fill="url(#bB2)"/>
<circle cx="1172.5" cy="1280.8" r="7.2" fill="url(#bR2)"/>
<path d="M1172.5,1280.8 L1179.9,1276.8 L1179.9,1284.8 Z" fill="#400000" opacity="0.7"/>
<rect x="1171.2" y="1290" width="2.6" height="37" fill="#66dd22"/>
<path d="M1168.0,1327 L1177.0,1327 L1172.5,1334 Z" fill="#66dd22"/>
<circle cx="1172.5" cy="1366.5" r="7" fill="url(#bB2)"/>
<circle cx="1199" cy="1280.8" r="7.2" fill="url(#bR2)"/>
<path d="M1199,1280.8 L1206.4,1276.8 L1206.4,1284.8 Z" fill="#400000" opacity="0.7"/>
<rect x="1197.7" y="1290" width="2.6" height="37" fill="#66dd22"/>
<path d="M1194.5,1327 L1203.5,1327 L1199,1334 Z" fill="#66dd22"/>
<circle cx="1199" cy="1366.5" r="7" fill="url(#bB2)"/>
<circle cx="1224.4" cy="1280.8" r="7.2" fill="url(#bR2)"/>
<path d="M1224.4,1280.8 L1231.8000000000002,1276.8 L1231.8000000000002,1284.8 Z" fill="#400000" opacity="0.7"/>
<rect x="1223.1000000000001" y="1290" width="2.6" height="37" fill="#66dd22"/>
<path d="M1219.9,1327 L1228.9,1327 L1224.4,1334 Z" fill="#66dd22"/>
<circle cx="1224.4" cy="1366.5" r="7" fill="url(#bB2)"/>
<circle cx="1252.1" cy="1280.8" r="7.2" fill="url(#bR2)"/>
<path d="M1252.1,1280.8 L1259.5,1276.8 L1259.5,1284.8 Z" fill="#400000" opacity="0.7"/>
<rect x="1250.8" y="1290" width="2.6" height="37" fill="#66dd22"/>
<path d="M1247.6,1327 L1256.6,1327 L1252.1,1334 Z" fill="#66dd22"/>
<circle cx="1252.1" cy="1366.5" r="7" fill="url(#bB2)"/>
<circle cx="1278.6" cy="1280.8" r="7.2" fill="url(#bR2)"/>
<path d="M1278.6,1280.8 L1286.0,1276.8 L1286.0,1284.8 Z" fill="#400000" opacity="0.7"/>
<rect x="1277.3" y="1290" width="2.6" height="37" fill="#66dd22"/>
<path d="M1274.1,1327 L1283.1,1327 L1278.6,1334 Z" fill="#66dd22"/>
<circle cx="1278.6" cy="1366.5" r="7" fill="url(#bB2)"/>
<path d="M1194.4,1345.6 L1182.8,1346.6 L1190.4,1351.9 L1179.5,1349.3 L1181.5,1356.2 L1174.3,1350.7 L1170.3,1357.2 L1168.6,1350.4 L1159.7,1354.9 L1164.0,1348.4 L1152.4,1349.6 L1161.6,1345.3 L1150.6,1343.0 L1162.2,1342.0 L1154.6,1336.7 L1165.5,1339.3 L1163.5,1332.4 L1170.7,1337.9 L1174.7,1331.4 L1176.4,1338.2 L1185.3,1333.7 L1181.0,1340.2 L1192.6,1339.0 L1183.4,1343.3 Z" fill="#f012e8"/>
<text x="1201.0" y="1354.4" font-size="20.2" text-anchor="start" fill="#000" font-weight="bold">Trapping</text>
<text x="1082" y="1248" font-weight="bold" font-size="20">(ii)<tspan font-size="17.5" dx="3">W/CTL</tspan></text>
<rect x="711.6" y="1459.9" width="48.5" height="14.8" fill="#000"/>
<text x="764.8" y="1472.8" font-size="15.1" text-anchor="start" fill="#000" font-weight="bold">Multilayer-graphene</text>
<rect x="901.7" y="1459.9" width="48.2" height="14.8" fill="#ffff00"/>
<text x="954.6" y="1472.8" font-weight="bold" font-size="14.5">Al<tspan font-size="10" dy="3">2</tspan><tspan dy="-3">O</tspan><tspan font-size="10" dy="3">3</tspan></text>
<rect x="1002.9" y="1460" width="49" height="14.5" fill="#10e0f8"/>
<text x="1062.2" y="1472.6" font-size="14.3" text-anchor="start" fill="#000" font-weight="bold">Al foil</text>
<rect x="1112.2" y="1457" width="47.5" height="14.4" fill="#9cf020"/>
<text x="1168.4" y="1469.7" font-size="14.8" text-anchor="start" fill="#000" font-weight="bold">PTFE</text>
<rect x="1219" y="1456.2" width="48.3" height="15.2" fill="#9818e8"/>
<text x="1275.5" y="1466.6" font-size="14.4" text-anchor="start" fill="#000" font-weight="bold">PET</text>
</svg>
</body></html>
